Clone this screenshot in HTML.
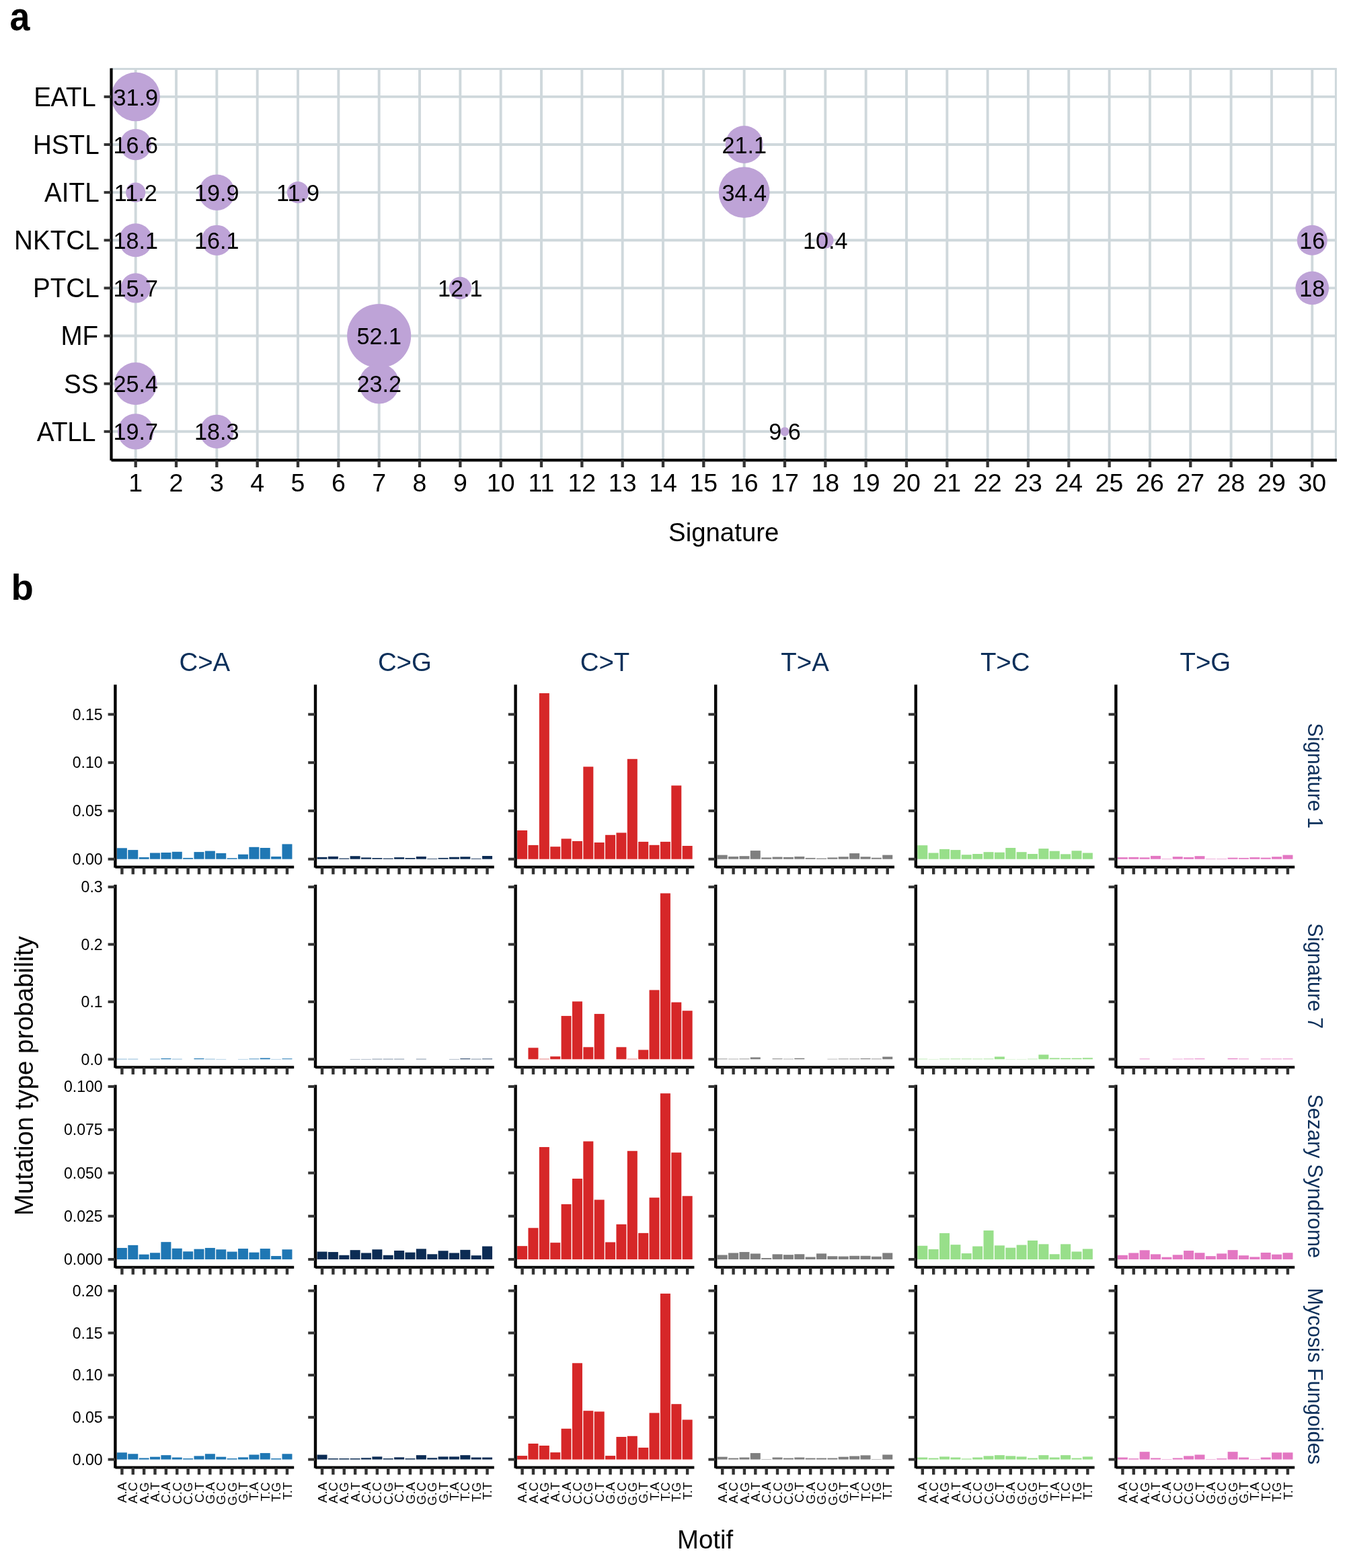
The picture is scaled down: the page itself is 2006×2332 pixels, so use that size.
<!DOCTYPE html>
<html><head><meta charset="utf-8"><title>Mutational signatures figure</title>
<style>html,body{margin:0;padding:0;background:#fff;}body{width:2006px;height:2332px;overflow:hidden;}svg{display:block;}</style>
</head><body>
<svg width="2006" height="2332" viewBox="0 0 2006 2332" font-family="'Liberation Sans', Arial, Helvetica, sans-serif">
<text transform="translate(14.50,44.70) scale(0.9450,1.0350)" font-size="57.00" font-weight="bold">a</text>
<line x1="201.70" y1="102.60" x2="201.70" y2="684.40" stroke="#cfd8dc" stroke-width="3.9" stroke-linecap="butt"/>
<line x1="262.03" y1="102.60" x2="262.03" y2="684.40" stroke="#cfd8dc" stroke-width="3.9" stroke-linecap="butt"/>
<line x1="322.36" y1="102.60" x2="322.36" y2="684.40" stroke="#cfd8dc" stroke-width="3.9" stroke-linecap="butt"/>
<line x1="382.69" y1="102.60" x2="382.69" y2="684.40" stroke="#cfd8dc" stroke-width="3.9" stroke-linecap="butt"/>
<line x1="443.02" y1="102.60" x2="443.02" y2="684.40" stroke="#cfd8dc" stroke-width="3.9" stroke-linecap="butt"/>
<line x1="503.35" y1="102.60" x2="503.35" y2="684.40" stroke="#cfd8dc" stroke-width="3.9" stroke-linecap="butt"/>
<line x1="563.68" y1="102.60" x2="563.68" y2="684.40" stroke="#cfd8dc" stroke-width="3.9" stroke-linecap="butt"/>
<line x1="624.01" y1="102.60" x2="624.01" y2="684.40" stroke="#cfd8dc" stroke-width="3.9" stroke-linecap="butt"/>
<line x1="684.34" y1="102.60" x2="684.34" y2="684.40" stroke="#cfd8dc" stroke-width="3.9" stroke-linecap="butt"/>
<line x1="744.67" y1="102.60" x2="744.67" y2="684.40" stroke="#cfd8dc" stroke-width="3.9" stroke-linecap="butt"/>
<line x1="805.00" y1="102.60" x2="805.00" y2="684.40" stroke="#cfd8dc" stroke-width="3.9" stroke-linecap="butt"/>
<line x1="865.33" y1="102.60" x2="865.33" y2="684.40" stroke="#cfd8dc" stroke-width="3.9" stroke-linecap="butt"/>
<line x1="925.66" y1="102.60" x2="925.66" y2="684.40" stroke="#cfd8dc" stroke-width="3.9" stroke-linecap="butt"/>
<line x1="985.99" y1="102.60" x2="985.99" y2="684.40" stroke="#cfd8dc" stroke-width="3.9" stroke-linecap="butt"/>
<line x1="1046.32" y1="102.60" x2="1046.32" y2="684.40" stroke="#cfd8dc" stroke-width="3.9" stroke-linecap="butt"/>
<line x1="1106.65" y1="102.60" x2="1106.65" y2="684.40" stroke="#cfd8dc" stroke-width="3.9" stroke-linecap="butt"/>
<line x1="1166.98" y1="102.60" x2="1166.98" y2="684.40" stroke="#cfd8dc" stroke-width="3.9" stroke-linecap="butt"/>
<line x1="1227.31" y1="102.60" x2="1227.31" y2="684.40" stroke="#cfd8dc" stroke-width="3.9" stroke-linecap="butt"/>
<line x1="1287.64" y1="102.60" x2="1287.64" y2="684.40" stroke="#cfd8dc" stroke-width="3.9" stroke-linecap="butt"/>
<line x1="1347.97" y1="102.60" x2="1347.97" y2="684.40" stroke="#cfd8dc" stroke-width="3.9" stroke-linecap="butt"/>
<line x1="1408.30" y1="102.60" x2="1408.30" y2="684.40" stroke="#cfd8dc" stroke-width="3.9" stroke-linecap="butt"/>
<line x1="1468.63" y1="102.60" x2="1468.63" y2="684.40" stroke="#cfd8dc" stroke-width="3.9" stroke-linecap="butt"/>
<line x1="1528.96" y1="102.60" x2="1528.96" y2="684.40" stroke="#cfd8dc" stroke-width="3.9" stroke-linecap="butt"/>
<line x1="1589.29" y1="102.60" x2="1589.29" y2="684.40" stroke="#cfd8dc" stroke-width="3.9" stroke-linecap="butt"/>
<line x1="1649.62" y1="102.60" x2="1649.62" y2="684.40" stroke="#cfd8dc" stroke-width="3.9" stroke-linecap="butt"/>
<line x1="1709.95" y1="102.60" x2="1709.95" y2="684.40" stroke="#cfd8dc" stroke-width="3.9" stroke-linecap="butt"/>
<line x1="1770.28" y1="102.60" x2="1770.28" y2="684.40" stroke="#cfd8dc" stroke-width="3.9" stroke-linecap="butt"/>
<line x1="1830.61" y1="102.60" x2="1830.61" y2="684.40" stroke="#cfd8dc" stroke-width="3.9" stroke-linecap="butt"/>
<line x1="1890.94" y1="102.60" x2="1890.94" y2="684.40" stroke="#cfd8dc" stroke-width="3.9" stroke-linecap="butt"/>
<line x1="1951.27" y1="102.60" x2="1951.27" y2="684.40" stroke="#cfd8dc" stroke-width="3.9" stroke-linecap="butt"/>
<line x1="165.50" y1="143.90" x2="1986.40" y2="143.90" stroke="#cfd8dc" stroke-width="3.9" stroke-linecap="butt"/>
<line x1="165.50" y1="215.03" x2="1986.40" y2="215.03" stroke="#cfd8dc" stroke-width="3.9" stroke-linecap="butt"/>
<line x1="165.50" y1="286.16" x2="1986.40" y2="286.16" stroke="#cfd8dc" stroke-width="3.9" stroke-linecap="butt"/>
<line x1="165.50" y1="357.29" x2="1986.40" y2="357.29" stroke="#cfd8dc" stroke-width="3.9" stroke-linecap="butt"/>
<line x1="165.50" y1="428.42" x2="1986.40" y2="428.42" stroke="#cfd8dc" stroke-width="3.9" stroke-linecap="butt"/>
<line x1="165.50" y1="499.55" x2="1986.40" y2="499.55" stroke="#cfd8dc" stroke-width="3.9" stroke-linecap="butt"/>
<line x1="165.50" y1="570.68" x2="1986.40" y2="570.68" stroke="#cfd8dc" stroke-width="3.9" stroke-linecap="butt"/>
<line x1="165.50" y1="641.81" x2="1986.40" y2="641.81" stroke="#cfd8dc" stroke-width="3.9" stroke-linecap="butt"/>
<line x1="165.50" y1="102.60" x2="1987.90" y2="102.60" stroke="#cfd8dc" stroke-width="3.0" stroke-linecap="butt"/>
<line x1="1986.40" y1="102.60" x2="1986.40" y2="684.40" stroke="#cfd8dc" stroke-width="3.0" stroke-linecap="butt"/>
<circle cx="201.70" cy="143.90" r="36.28" fill="#bea3d7"/>
<circle cx="201.70" cy="215.03" r="23.25" fill="#bea3d7"/>
<circle cx="1106.65" cy="215.03" r="27.93" fill="#bea3d7"/>
<circle cx="201.70" cy="286.16" r="14.59" fill="#bea3d7"/>
<circle cx="322.36" cy="286.16" r="26.78" fill="#bea3d7"/>
<circle cx="443.02" cy="286.16" r="16.16" fill="#bea3d7"/>
<circle cx="1106.65" cy="286.16" r="37.89" fill="#bea3d7"/>
<circle cx="201.70" cy="357.29" r="24.94" fill="#bea3d7"/>
<circle cx="322.36" cy="357.29" r="22.65" fill="#bea3d7"/>
<circle cx="1227.31" cy="357.29" r="12.26" fill="#bea3d7"/>
<circle cx="1951.27" cy="357.29" r="22.52" fill="#bea3d7"/>
<circle cx="201.70" cy="428.42" r="22.15" fill="#bea3d7"/>
<circle cx="684.34" cy="428.42" r="16.57" fill="#bea3d7"/>
<circle cx="1951.27" cy="428.42" r="24.83" fill="#bea3d7"/>
<circle cx="563.68" cy="499.55" r="47.55" fill="#bea3d7"/>
<circle cx="201.70" cy="570.68" r="31.59" fill="#bea3d7"/>
<circle cx="563.68" cy="570.68" r="29.79" fill="#bea3d7"/>
<circle cx="201.70" cy="641.81" r="26.59" fill="#bea3d7"/>
<circle cx="322.36" cy="641.81" r="25.15" fill="#bea3d7"/>
<circle cx="1166.98" cy="641.81" r="6.65" fill="#bea3d7"/>
<text transform="translate(201.70,156.50)" font-size="34.20" text-anchor="middle">31.9</text>
<text transform="translate(201.70,227.63)" font-size="34.20" text-anchor="middle">16.6</text>
<text transform="translate(1106.65,227.63)" font-size="34.20" text-anchor="middle">21.1</text>
<text transform="translate(201.70,298.76)" font-size="34.20" text-anchor="middle">11.2</text>
<text transform="translate(322.36,298.76)" font-size="34.20" text-anchor="middle">19.9</text>
<text transform="translate(443.02,298.76)" font-size="34.20" text-anchor="middle">11.9</text>
<text transform="translate(1106.65,298.76)" font-size="34.20" text-anchor="middle">34.4</text>
<text transform="translate(201.70,369.89)" font-size="34.20" text-anchor="middle">18.1</text>
<text transform="translate(322.36,369.89)" font-size="34.20" text-anchor="middle">16.1</text>
<text transform="translate(1227.31,369.89)" font-size="34.20" text-anchor="middle">10.4</text>
<text transform="translate(1951.27,369.89)" font-size="34.20" text-anchor="middle">16</text>
<text transform="translate(201.70,441.02)" font-size="34.20" text-anchor="middle">15.7</text>
<text transform="translate(684.34,441.02)" font-size="34.20" text-anchor="middle">12.1</text>
<text transform="translate(1951.27,441.02)" font-size="34.20" text-anchor="middle">18</text>
<text transform="translate(563.68,512.15)" font-size="34.20" text-anchor="middle">52.1</text>
<text transform="translate(201.70,583.28)" font-size="34.20" text-anchor="middle">25.4</text>
<text transform="translate(563.68,583.28)" font-size="34.20" text-anchor="middle">23.2</text>
<text transform="translate(201.70,654.41)" font-size="34.20" text-anchor="middle">19.7</text>
<text transform="translate(322.36,654.41)" font-size="34.20" text-anchor="middle">18.3</text>
<text transform="translate(1166.98,654.41)" font-size="34.20" text-anchor="middle">9.6</text>
<line x1="165.50" y1="101.40" x2="165.50" y2="684.70" stroke="#000" stroke-width="4.2" stroke-linecap="butt"/>
<line x1="165.50" y1="684.40" x2="1987.90" y2="684.40" stroke="#000" stroke-width="4.2" stroke-linecap="butt"/>
<line x1="154.60" y1="143.90" x2="165.50" y2="143.90" stroke="#333333" stroke-width="4.0" stroke-linecap="butt"/>
<line x1="154.60" y1="215.03" x2="165.50" y2="215.03" stroke="#333333" stroke-width="4.0" stroke-linecap="butt"/>
<line x1="154.60" y1="286.16" x2="165.50" y2="286.16" stroke="#333333" stroke-width="4.0" stroke-linecap="butt"/>
<line x1="154.60" y1="357.29" x2="165.50" y2="357.29" stroke="#333333" stroke-width="4.0" stroke-linecap="butt"/>
<line x1="154.60" y1="428.42" x2="165.50" y2="428.42" stroke="#333333" stroke-width="4.0" stroke-linecap="butt"/>
<line x1="154.60" y1="499.55" x2="165.50" y2="499.55" stroke="#333333" stroke-width="4.0" stroke-linecap="butt"/>
<line x1="154.60" y1="570.68" x2="165.50" y2="570.68" stroke="#333333" stroke-width="4.0" stroke-linecap="butt"/>
<line x1="154.60" y1="641.81" x2="165.50" y2="641.81" stroke="#333333" stroke-width="4.0" stroke-linecap="butt"/>
<line x1="201.70" y1="684.40" x2="201.70" y2="695.00" stroke="#333333" stroke-width="4.3" stroke-linecap="butt"/>
<line x1="262.03" y1="684.40" x2="262.03" y2="695.00" stroke="#333333" stroke-width="4.3" stroke-linecap="butt"/>
<line x1="322.36" y1="684.40" x2="322.36" y2="695.00" stroke="#333333" stroke-width="4.3" stroke-linecap="butt"/>
<line x1="382.69" y1="684.40" x2="382.69" y2="695.00" stroke="#333333" stroke-width="4.3" stroke-linecap="butt"/>
<line x1="443.02" y1="684.40" x2="443.02" y2="695.00" stroke="#333333" stroke-width="4.3" stroke-linecap="butt"/>
<line x1="503.35" y1="684.40" x2="503.35" y2="695.00" stroke="#333333" stroke-width="4.3" stroke-linecap="butt"/>
<line x1="563.68" y1="684.40" x2="563.68" y2="695.00" stroke="#333333" stroke-width="4.3" stroke-linecap="butt"/>
<line x1="624.01" y1="684.40" x2="624.01" y2="695.00" stroke="#333333" stroke-width="4.3" stroke-linecap="butt"/>
<line x1="684.34" y1="684.40" x2="684.34" y2="695.00" stroke="#333333" stroke-width="4.3" stroke-linecap="butt"/>
<line x1="744.67" y1="684.40" x2="744.67" y2="695.00" stroke="#333333" stroke-width="4.3" stroke-linecap="butt"/>
<line x1="805.00" y1="684.40" x2="805.00" y2="695.00" stroke="#333333" stroke-width="4.3" stroke-linecap="butt"/>
<line x1="865.33" y1="684.40" x2="865.33" y2="695.00" stroke="#333333" stroke-width="4.3" stroke-linecap="butt"/>
<line x1="925.66" y1="684.40" x2="925.66" y2="695.00" stroke="#333333" stroke-width="4.3" stroke-linecap="butt"/>
<line x1="985.99" y1="684.40" x2="985.99" y2="695.00" stroke="#333333" stroke-width="4.3" stroke-linecap="butt"/>
<line x1="1046.32" y1="684.40" x2="1046.32" y2="695.00" stroke="#333333" stroke-width="4.3" stroke-linecap="butt"/>
<line x1="1106.65" y1="684.40" x2="1106.65" y2="695.00" stroke="#333333" stroke-width="4.3" stroke-linecap="butt"/>
<line x1="1166.98" y1="684.40" x2="1166.98" y2="695.00" stroke="#333333" stroke-width="4.3" stroke-linecap="butt"/>
<line x1="1227.31" y1="684.40" x2="1227.31" y2="695.00" stroke="#333333" stroke-width="4.3" stroke-linecap="butt"/>
<line x1="1287.64" y1="684.40" x2="1287.64" y2="695.00" stroke="#333333" stroke-width="4.3" stroke-linecap="butt"/>
<line x1="1347.97" y1="684.40" x2="1347.97" y2="695.00" stroke="#333333" stroke-width="4.3" stroke-linecap="butt"/>
<line x1="1408.30" y1="684.40" x2="1408.30" y2="695.00" stroke="#333333" stroke-width="4.3" stroke-linecap="butt"/>
<line x1="1468.63" y1="684.40" x2="1468.63" y2="695.00" stroke="#333333" stroke-width="4.3" stroke-linecap="butt"/>
<line x1="1528.96" y1="684.40" x2="1528.96" y2="695.00" stroke="#333333" stroke-width="4.3" stroke-linecap="butt"/>
<line x1="1589.29" y1="684.40" x2="1589.29" y2="695.00" stroke="#333333" stroke-width="4.3" stroke-linecap="butt"/>
<line x1="1649.62" y1="684.40" x2="1649.62" y2="695.00" stroke="#333333" stroke-width="4.3" stroke-linecap="butt"/>
<line x1="1709.95" y1="684.40" x2="1709.95" y2="695.00" stroke="#333333" stroke-width="4.3" stroke-linecap="butt"/>
<line x1="1770.28" y1="684.40" x2="1770.28" y2="695.00" stroke="#333333" stroke-width="4.3" stroke-linecap="butt"/>
<line x1="1830.61" y1="684.40" x2="1830.61" y2="695.00" stroke="#333333" stroke-width="4.3" stroke-linecap="butt"/>
<line x1="1890.94" y1="684.40" x2="1890.94" y2="695.00" stroke="#333333" stroke-width="4.3" stroke-linecap="butt"/>
<line x1="1951.27" y1="684.40" x2="1951.27" y2="695.00" stroke="#333333" stroke-width="4.3" stroke-linecap="butt"/>
<text transform="translate(142.20,157.80) scale(1.0000,1.0400)" font-size="38.60" text-anchor="end" letter-spacing="-0.43">EATL</text>
<text transform="translate(147.60,228.93) scale(1.0000,1.0400)" font-size="38.60" text-anchor="end">HSTL</text>
<text transform="translate(147.60,300.06) scale(1.0000,1.0400)" font-size="38.60" text-anchor="end">AITL</text>
<text transform="translate(147.60,371.19) scale(1.0000,1.0400)" font-size="38.60" text-anchor="end">NKTCL</text>
<text transform="translate(147.60,442.32) scale(1.0000,1.0400)" font-size="38.60" text-anchor="end">PTCL</text>
<text transform="translate(146.20,513.45) scale(1.0000,1.0400)" font-size="38.60" text-anchor="end">MF</text>
<text transform="translate(146.50,584.58) scale(1.0000,1.0400)" font-size="38.60" text-anchor="end">SS</text>
<text transform="translate(142.00,655.71) scale(1.0000,1.0400)" font-size="38.60" text-anchor="end" letter-spacing="-0.53">ATLL</text>
<text transform="translate(201.70,731.00)" font-size="37.50" text-anchor="middle">1</text>
<text transform="translate(262.03,731.00)" font-size="37.50" text-anchor="middle">2</text>
<text transform="translate(322.36,731.00)" font-size="37.50" text-anchor="middle">3</text>
<text transform="translate(382.69,731.00)" font-size="37.50" text-anchor="middle">4</text>
<text transform="translate(443.02,731.00)" font-size="37.50" text-anchor="middle">5</text>
<text transform="translate(503.35,731.00)" font-size="37.50" text-anchor="middle">6</text>
<text transform="translate(563.68,731.00)" font-size="37.50" text-anchor="middle">7</text>
<text transform="translate(624.01,731.00)" font-size="37.50" text-anchor="middle">8</text>
<text transform="translate(684.34,731.00)" font-size="37.50" text-anchor="middle">9</text>
<text transform="translate(744.67,731.00)" font-size="37.50" text-anchor="middle">10</text>
<text transform="translate(805.00,731.00)" font-size="37.50" text-anchor="middle">11</text>
<text transform="translate(865.33,731.00)" font-size="37.50" text-anchor="middle">12</text>
<text transform="translate(925.66,731.00)" font-size="37.50" text-anchor="middle">13</text>
<text transform="translate(985.99,731.00)" font-size="37.50" text-anchor="middle">14</text>
<text transform="translate(1046.32,731.00)" font-size="37.50" text-anchor="middle">15</text>
<text transform="translate(1106.65,731.00)" font-size="37.50" text-anchor="middle">16</text>
<text transform="translate(1166.98,731.00)" font-size="37.50" text-anchor="middle">17</text>
<text transform="translate(1227.31,731.00)" font-size="37.50" text-anchor="middle">18</text>
<text transform="translate(1287.64,731.00)" font-size="37.50" text-anchor="middle">19</text>
<text transform="translate(1347.97,731.00)" font-size="37.50" text-anchor="middle">20</text>
<text transform="translate(1408.30,731.00)" font-size="37.50" text-anchor="middle">21</text>
<text transform="translate(1468.63,731.00)" font-size="37.50" text-anchor="middle">22</text>
<text transform="translate(1528.96,731.00)" font-size="37.50" text-anchor="middle">23</text>
<text transform="translate(1589.29,731.00)" font-size="37.50" text-anchor="middle">24</text>
<text transform="translate(1649.62,731.00)" font-size="37.50" text-anchor="middle">25</text>
<text transform="translate(1709.95,731.00)" font-size="37.50" text-anchor="middle">26</text>
<text transform="translate(1770.28,731.00)" font-size="37.50" text-anchor="middle">27</text>
<text transform="translate(1830.61,731.00)" font-size="37.50" text-anchor="middle">28</text>
<text transform="translate(1890.94,731.00)" font-size="37.50" text-anchor="middle">29</text>
<text transform="translate(1951.27,731.00)" font-size="37.50" text-anchor="middle">30</text>
<text transform="translate(1076.20,805.00)" font-size="38.40" text-anchor="middle">Signature</text>
<text transform="translate(16.40,892.30)" font-size="54.50" font-weight="bold">b</text>
<rect x="173.90" y="1261.30" width="15.00" height="16.40" fill="#1f77b4"/>
<rect x="190.27" y="1264.10" width="15.00" height="13.60" fill="#1f77b4"/>
<rect x="206.64" y="1275.00" width="15.00" height="2.70" fill="#1f77b4"/>
<rect x="223.01" y="1268.50" width="15.00" height="9.20" fill="#1f77b4"/>
<rect x="239.38" y="1268.00" width="15.00" height="9.70" fill="#1f77b4"/>
<rect x="255.75" y="1266.80" width="15.00" height="10.90" fill="#1f77b4"/>
<rect x="272.12" y="1275.90" width="15.00" height="1.80" fill="#1f77b4"/>
<rect x="288.49" y="1267.10" width="15.00" height="10.60" fill="#1f77b4"/>
<rect x="304.86" y="1265.60" width="15.00" height="12.10" fill="#1f77b4"/>
<rect x="321.23" y="1268.90" width="15.00" height="8.80" fill="#1f77b4"/>
<rect x="337.60" y="1276.20" width="15.00" height="1.50" fill="#1f77b4"/>
<rect x="353.97" y="1270.70" width="15.00" height="7.00" fill="#1f77b4"/>
<rect x="370.34" y="1259.80" width="15.00" height="17.90" fill="#1f77b4"/>
<rect x="386.71" y="1261.00" width="15.00" height="16.70" fill="#1f77b4"/>
<rect x="403.08" y="1273.90" width="15.00" height="3.80" fill="#1f77b4"/>
<rect x="419.45" y="1255.40" width="15.00" height="22.30" fill="#1f77b4"/>
<line x1="171.40" y1="1018.20" x2="171.40" y2="1290.50" stroke="#000" stroke-width="4.4" stroke-linecap="butt"/>
<line x1="171.40" y1="1289.50" x2="437.20" y2="1289.50" stroke="#000" stroke-width="4.0" stroke-linecap="butt"/>
<line x1="160.60" y1="1277.70" x2="171.40" y2="1277.70" stroke="#333333" stroke-width="4.0" stroke-linecap="butt"/>
<text transform="translate(152.70,1285.90) scale(1.0000,1.0100)" font-size="23.10" text-anchor="end">0.00</text>
<line x1="160.60" y1="1205.95" x2="171.40" y2="1205.95" stroke="#333333" stroke-width="4.0" stroke-linecap="butt"/>
<text transform="translate(152.70,1214.15) scale(1.0000,1.0100)" font-size="23.10" text-anchor="end">0.05</text>
<line x1="160.60" y1="1134.20" x2="171.40" y2="1134.20" stroke="#333333" stroke-width="4.0" stroke-linecap="butt"/>
<text transform="translate(152.70,1142.40) scale(1.0000,1.0100)" font-size="23.10" text-anchor="end">0.10</text>
<line x1="160.60" y1="1062.45" x2="171.40" y2="1062.45" stroke="#333333" stroke-width="4.0" stroke-linecap="butt"/>
<text transform="translate(152.70,1070.65) scale(1.0000,1.0100)" font-size="23.10" text-anchor="end">0.15</text>
<line x1="181.40" y1="1289.50" x2="181.40" y2="1300.30" stroke="#333333" stroke-width="4.4" stroke-linecap="butt"/>
<line x1="197.77" y1="1289.50" x2="197.77" y2="1300.30" stroke="#333333" stroke-width="4.4" stroke-linecap="butt"/>
<line x1="214.14" y1="1289.50" x2="214.14" y2="1300.30" stroke="#333333" stroke-width="4.4" stroke-linecap="butt"/>
<line x1="230.51" y1="1289.50" x2="230.51" y2="1300.30" stroke="#333333" stroke-width="4.4" stroke-linecap="butt"/>
<line x1="246.88" y1="1289.50" x2="246.88" y2="1300.30" stroke="#333333" stroke-width="4.4" stroke-linecap="butt"/>
<line x1="263.25" y1="1289.50" x2="263.25" y2="1300.30" stroke="#333333" stroke-width="4.4" stroke-linecap="butt"/>
<line x1="279.62" y1="1289.50" x2="279.62" y2="1300.30" stroke="#333333" stroke-width="4.4" stroke-linecap="butt"/>
<line x1="295.99" y1="1289.50" x2="295.99" y2="1300.30" stroke="#333333" stroke-width="4.4" stroke-linecap="butt"/>
<line x1="312.36" y1="1289.50" x2="312.36" y2="1300.30" stroke="#333333" stroke-width="4.4" stroke-linecap="butt"/>
<line x1="328.73" y1="1289.50" x2="328.73" y2="1300.30" stroke="#333333" stroke-width="4.4" stroke-linecap="butt"/>
<line x1="345.10" y1="1289.50" x2="345.10" y2="1300.30" stroke="#333333" stroke-width="4.4" stroke-linecap="butt"/>
<line x1="361.47" y1="1289.50" x2="361.47" y2="1300.30" stroke="#333333" stroke-width="4.4" stroke-linecap="butt"/>
<line x1="377.84" y1="1289.50" x2="377.84" y2="1300.30" stroke="#333333" stroke-width="4.4" stroke-linecap="butt"/>
<line x1="394.21" y1="1289.50" x2="394.21" y2="1300.30" stroke="#333333" stroke-width="4.4" stroke-linecap="butt"/>
<line x1="410.58" y1="1289.50" x2="410.58" y2="1300.30" stroke="#333333" stroke-width="4.4" stroke-linecap="butt"/>
<line x1="426.95" y1="1289.50" x2="426.95" y2="1300.30" stroke="#333333" stroke-width="4.4" stroke-linecap="butt"/>
<rect x="471.50" y="1274.80" width="15.00" height="2.90" fill="#0c2c54"/>
<rect x="487.87" y="1273.80" width="15.00" height="3.90" fill="#0c2c54"/>
<rect x="504.24" y="1276.50" width="15.00" height="1.20" fill="#0c2c54"/>
<rect x="520.61" y="1273.20" width="15.00" height="4.50" fill="#0c2c54"/>
<rect x="536.98" y="1275.40" width="15.00" height="2.30" fill="#0c2c54"/>
<rect x="553.35" y="1276.00" width="15.00" height="1.70" fill="#0c2c54"/>
<rect x="569.72" y="1276.50" width="15.00" height="1.20" fill="#0c2c54"/>
<rect x="586.09" y="1275.10" width="15.00" height="2.60" fill="#0c2c54"/>
<rect x="602.46" y="1276.00" width="15.00" height="1.70" fill="#0c2c54"/>
<rect x="618.83" y="1273.90" width="15.00" height="3.80" fill="#0c2c54"/>
<rect x="635.20" y="1276.90" width="15.00" height="0.80" fill="#0c2c54"/>
<rect x="651.57" y="1275.90" width="15.00" height="1.80" fill="#0c2c54"/>
<rect x="667.94" y="1274.70" width="15.00" height="3.00" fill="#0c2c54"/>
<rect x="684.31" y="1274.20" width="15.00" height="3.50" fill="#0c2c54"/>
<rect x="700.68" y="1276.80" width="15.00" height="0.90" fill="#0c2c54"/>
<rect x="717.05" y="1273.00" width="15.00" height="4.70" fill="#0c2c54"/>
<line x1="469.00" y1="1018.20" x2="469.00" y2="1290.50" stroke="#000" stroke-width="4.4" stroke-linecap="butt"/>
<line x1="469.00" y1="1289.50" x2="734.80" y2="1289.50" stroke="#000" stroke-width="4.0" stroke-linecap="butt"/>
<line x1="458.20" y1="1277.70" x2="469.00" y2="1277.70" stroke="#333333" stroke-width="4.0" stroke-linecap="butt"/>
<line x1="458.20" y1="1205.95" x2="469.00" y2="1205.95" stroke="#333333" stroke-width="4.0" stroke-linecap="butt"/>
<line x1="458.20" y1="1134.20" x2="469.00" y2="1134.20" stroke="#333333" stroke-width="4.0" stroke-linecap="butt"/>
<line x1="458.20" y1="1062.45" x2="469.00" y2="1062.45" stroke="#333333" stroke-width="4.0" stroke-linecap="butt"/>
<line x1="479.00" y1="1289.50" x2="479.00" y2="1300.30" stroke="#333333" stroke-width="4.4" stroke-linecap="butt"/>
<line x1="495.37" y1="1289.50" x2="495.37" y2="1300.30" stroke="#333333" stroke-width="4.4" stroke-linecap="butt"/>
<line x1="511.74" y1="1289.50" x2="511.74" y2="1300.30" stroke="#333333" stroke-width="4.4" stroke-linecap="butt"/>
<line x1="528.11" y1="1289.50" x2="528.11" y2="1300.30" stroke="#333333" stroke-width="4.4" stroke-linecap="butt"/>
<line x1="544.48" y1="1289.50" x2="544.48" y2="1300.30" stroke="#333333" stroke-width="4.4" stroke-linecap="butt"/>
<line x1="560.85" y1="1289.50" x2="560.85" y2="1300.30" stroke="#333333" stroke-width="4.4" stroke-linecap="butt"/>
<line x1="577.22" y1="1289.50" x2="577.22" y2="1300.30" stroke="#333333" stroke-width="4.4" stroke-linecap="butt"/>
<line x1="593.59" y1="1289.50" x2="593.59" y2="1300.30" stroke="#333333" stroke-width="4.4" stroke-linecap="butt"/>
<line x1="609.96" y1="1289.50" x2="609.96" y2="1300.30" stroke="#333333" stroke-width="4.4" stroke-linecap="butt"/>
<line x1="626.33" y1="1289.50" x2="626.33" y2="1300.30" stroke="#333333" stroke-width="4.4" stroke-linecap="butt"/>
<line x1="642.70" y1="1289.50" x2="642.70" y2="1300.30" stroke="#333333" stroke-width="4.4" stroke-linecap="butt"/>
<line x1="659.07" y1="1289.50" x2="659.07" y2="1300.30" stroke="#333333" stroke-width="4.4" stroke-linecap="butt"/>
<line x1="675.44" y1="1289.50" x2="675.44" y2="1300.30" stroke="#333333" stroke-width="4.4" stroke-linecap="butt"/>
<line x1="691.81" y1="1289.50" x2="691.81" y2="1300.30" stroke="#333333" stroke-width="4.4" stroke-linecap="butt"/>
<line x1="708.18" y1="1289.50" x2="708.18" y2="1300.30" stroke="#333333" stroke-width="4.4" stroke-linecap="butt"/>
<line x1="724.55" y1="1289.50" x2="724.55" y2="1300.30" stroke="#333333" stroke-width="4.4" stroke-linecap="butt"/>
<rect x="769.10" y="1235.00" width="15.00" height="42.70" fill="#d62728"/>
<rect x="785.47" y="1256.90" width="15.00" height="20.80" fill="#d62728"/>
<rect x="801.84" y="1031.00" width="15.00" height="246.70" fill="#d62728"/>
<rect x="818.21" y="1259.20" width="15.00" height="18.50" fill="#d62728"/>
<rect x="834.58" y="1247.40" width="15.00" height="30.30" fill="#d62728"/>
<rect x="850.95" y="1251.00" width="15.00" height="26.70" fill="#d62728"/>
<rect x="867.32" y="1140.30" width="15.00" height="137.40" fill="#d62728"/>
<rect x="883.69" y="1253.00" width="15.00" height="24.70" fill="#d62728"/>
<rect x="900.06" y="1241.80" width="15.00" height="35.90" fill="#d62728"/>
<rect x="916.43" y="1238.50" width="15.00" height="39.20" fill="#d62728"/>
<rect x="932.80" y="1128.80" width="15.00" height="148.90" fill="#d62728"/>
<rect x="949.17" y="1251.90" width="15.00" height="25.80" fill="#d62728"/>
<rect x="965.54" y="1256.80" width="15.00" height="20.90" fill="#d62728"/>
<rect x="981.91" y="1251.90" width="15.00" height="25.80" fill="#d62728"/>
<rect x="998.28" y="1168.30" width="15.00" height="109.40" fill="#d62728"/>
<rect x="1014.65" y="1258.00" width="15.00" height="19.70" fill="#d62728"/>
<line x1="766.60" y1="1018.20" x2="766.60" y2="1290.50" stroke="#000" stroke-width="4.4" stroke-linecap="butt"/>
<line x1="766.60" y1="1289.50" x2="1032.40" y2="1289.50" stroke="#000" stroke-width="4.0" stroke-linecap="butt"/>
<line x1="755.80" y1="1277.70" x2="766.60" y2="1277.70" stroke="#333333" stroke-width="4.0" stroke-linecap="butt"/>
<line x1="755.80" y1="1205.95" x2="766.60" y2="1205.95" stroke="#333333" stroke-width="4.0" stroke-linecap="butt"/>
<line x1="755.80" y1="1134.20" x2="766.60" y2="1134.20" stroke="#333333" stroke-width="4.0" stroke-linecap="butt"/>
<line x1="755.80" y1="1062.45" x2="766.60" y2="1062.45" stroke="#333333" stroke-width="4.0" stroke-linecap="butt"/>
<line x1="776.60" y1="1289.50" x2="776.60" y2="1300.30" stroke="#333333" stroke-width="4.4" stroke-linecap="butt"/>
<line x1="792.97" y1="1289.50" x2="792.97" y2="1300.30" stroke="#333333" stroke-width="4.4" stroke-linecap="butt"/>
<line x1="809.34" y1="1289.50" x2="809.34" y2="1300.30" stroke="#333333" stroke-width="4.4" stroke-linecap="butt"/>
<line x1="825.71" y1="1289.50" x2="825.71" y2="1300.30" stroke="#333333" stroke-width="4.4" stroke-linecap="butt"/>
<line x1="842.08" y1="1289.50" x2="842.08" y2="1300.30" stroke="#333333" stroke-width="4.4" stroke-linecap="butt"/>
<line x1="858.45" y1="1289.50" x2="858.45" y2="1300.30" stroke="#333333" stroke-width="4.4" stroke-linecap="butt"/>
<line x1="874.82" y1="1289.50" x2="874.82" y2="1300.30" stroke="#333333" stroke-width="4.4" stroke-linecap="butt"/>
<line x1="891.19" y1="1289.50" x2="891.19" y2="1300.30" stroke="#333333" stroke-width="4.4" stroke-linecap="butt"/>
<line x1="907.56" y1="1289.50" x2="907.56" y2="1300.30" stroke="#333333" stroke-width="4.4" stroke-linecap="butt"/>
<line x1="923.93" y1="1289.50" x2="923.93" y2="1300.30" stroke="#333333" stroke-width="4.4" stroke-linecap="butt"/>
<line x1="940.30" y1="1289.50" x2="940.30" y2="1300.30" stroke="#333333" stroke-width="4.4" stroke-linecap="butt"/>
<line x1="956.67" y1="1289.50" x2="956.67" y2="1300.30" stroke="#333333" stroke-width="4.4" stroke-linecap="butt"/>
<line x1="973.04" y1="1289.50" x2="973.04" y2="1300.30" stroke="#333333" stroke-width="4.4" stroke-linecap="butt"/>
<line x1="989.41" y1="1289.50" x2="989.41" y2="1300.30" stroke="#333333" stroke-width="4.4" stroke-linecap="butt"/>
<line x1="1005.78" y1="1289.50" x2="1005.78" y2="1300.30" stroke="#333333" stroke-width="4.4" stroke-linecap="butt"/>
<line x1="1022.15" y1="1289.50" x2="1022.15" y2="1300.30" stroke="#333333" stroke-width="4.4" stroke-linecap="butt"/>
<rect x="1066.70" y="1271.60" width="15.00" height="6.10" fill="#7f7f7f"/>
<rect x="1083.07" y="1273.90" width="15.00" height="3.80" fill="#7f7f7f"/>
<rect x="1099.44" y="1273.20" width="15.00" height="4.50" fill="#7f7f7f"/>
<rect x="1115.81" y="1265.10" width="15.00" height="12.60" fill="#7f7f7f"/>
<rect x="1132.18" y="1275.40" width="15.00" height="2.30" fill="#7f7f7f"/>
<rect x="1148.55" y="1274.50" width="15.00" height="3.20" fill="#7f7f7f"/>
<rect x="1164.92" y="1274.80" width="15.00" height="2.90" fill="#7f7f7f"/>
<rect x="1181.29" y="1273.90" width="15.00" height="3.80" fill="#7f7f7f"/>
<rect x="1197.66" y="1275.90" width="15.00" height="1.80" fill="#7f7f7f"/>
<rect x="1214.03" y="1276.50" width="15.00" height="1.20" fill="#7f7f7f"/>
<rect x="1230.40" y="1275.40" width="15.00" height="2.30" fill="#7f7f7f"/>
<rect x="1246.77" y="1274.20" width="15.00" height="3.50" fill="#7f7f7f"/>
<rect x="1263.14" y="1269.10" width="15.00" height="8.60" fill="#7f7f7f"/>
<rect x="1279.51" y="1274.20" width="15.00" height="3.50" fill="#7f7f7f"/>
<rect x="1295.88" y="1275.70" width="15.00" height="2.00" fill="#7f7f7f"/>
<rect x="1312.25" y="1271.60" width="15.00" height="6.10" fill="#7f7f7f"/>
<line x1="1064.20" y1="1018.20" x2="1064.20" y2="1290.50" stroke="#000" stroke-width="4.4" stroke-linecap="butt"/>
<line x1="1064.20" y1="1289.50" x2="1330.00" y2="1289.50" stroke="#000" stroke-width="4.0" stroke-linecap="butt"/>
<line x1="1053.40" y1="1277.70" x2="1064.20" y2="1277.70" stroke="#333333" stroke-width="4.0" stroke-linecap="butt"/>
<line x1="1053.40" y1="1205.95" x2="1064.20" y2="1205.95" stroke="#333333" stroke-width="4.0" stroke-linecap="butt"/>
<line x1="1053.40" y1="1134.20" x2="1064.20" y2="1134.20" stroke="#333333" stroke-width="4.0" stroke-linecap="butt"/>
<line x1="1053.40" y1="1062.45" x2="1064.20" y2="1062.45" stroke="#333333" stroke-width="4.0" stroke-linecap="butt"/>
<line x1="1074.20" y1="1289.50" x2="1074.20" y2="1300.30" stroke="#333333" stroke-width="4.4" stroke-linecap="butt"/>
<line x1="1090.57" y1="1289.50" x2="1090.57" y2="1300.30" stroke="#333333" stroke-width="4.4" stroke-linecap="butt"/>
<line x1="1106.94" y1="1289.50" x2="1106.94" y2="1300.30" stroke="#333333" stroke-width="4.4" stroke-linecap="butt"/>
<line x1="1123.31" y1="1289.50" x2="1123.31" y2="1300.30" stroke="#333333" stroke-width="4.4" stroke-linecap="butt"/>
<line x1="1139.68" y1="1289.50" x2="1139.68" y2="1300.30" stroke="#333333" stroke-width="4.4" stroke-linecap="butt"/>
<line x1="1156.05" y1="1289.50" x2="1156.05" y2="1300.30" stroke="#333333" stroke-width="4.4" stroke-linecap="butt"/>
<line x1="1172.42" y1="1289.50" x2="1172.42" y2="1300.30" stroke="#333333" stroke-width="4.4" stroke-linecap="butt"/>
<line x1="1188.79" y1="1289.50" x2="1188.79" y2="1300.30" stroke="#333333" stroke-width="4.4" stroke-linecap="butt"/>
<line x1="1205.16" y1="1289.50" x2="1205.16" y2="1300.30" stroke="#333333" stroke-width="4.4" stroke-linecap="butt"/>
<line x1="1221.53" y1="1289.50" x2="1221.53" y2="1300.30" stroke="#333333" stroke-width="4.4" stroke-linecap="butt"/>
<line x1="1237.90" y1="1289.50" x2="1237.90" y2="1300.30" stroke="#333333" stroke-width="4.4" stroke-linecap="butt"/>
<line x1="1254.27" y1="1289.50" x2="1254.27" y2="1300.30" stroke="#333333" stroke-width="4.4" stroke-linecap="butt"/>
<line x1="1270.64" y1="1289.50" x2="1270.64" y2="1300.30" stroke="#333333" stroke-width="4.4" stroke-linecap="butt"/>
<line x1="1287.01" y1="1289.50" x2="1287.01" y2="1300.30" stroke="#333333" stroke-width="4.4" stroke-linecap="butt"/>
<line x1="1303.38" y1="1289.50" x2="1303.38" y2="1300.30" stroke="#333333" stroke-width="4.4" stroke-linecap="butt"/>
<line x1="1319.75" y1="1289.50" x2="1319.75" y2="1300.30" stroke="#333333" stroke-width="4.4" stroke-linecap="butt"/>
<rect x="1364.30" y="1257.20" width="15.00" height="20.50" fill="#98df8a"/>
<rect x="1380.67" y="1268.50" width="15.00" height="9.20" fill="#98df8a"/>
<rect x="1397.04" y="1262.90" width="15.00" height="14.80" fill="#98df8a"/>
<rect x="1413.41" y="1264.10" width="15.00" height="13.60" fill="#98df8a"/>
<rect x="1429.78" y="1271.20" width="15.00" height="6.50" fill="#98df8a"/>
<rect x="1446.15" y="1270.00" width="15.00" height="7.70" fill="#98df8a"/>
<rect x="1462.52" y="1267.20" width="15.00" height="10.50" fill="#98df8a"/>
<rect x="1478.89" y="1267.70" width="15.00" height="10.00" fill="#98df8a"/>
<rect x="1495.26" y="1261.00" width="15.00" height="16.70" fill="#98df8a"/>
<rect x="1511.63" y="1267.20" width="15.00" height="10.50" fill="#98df8a"/>
<rect x="1528.00" y="1270.00" width="15.00" height="7.70" fill="#98df8a"/>
<rect x="1544.37" y="1262.10" width="15.00" height="15.60" fill="#98df8a"/>
<rect x="1560.74" y="1265.70" width="15.00" height="12.00" fill="#98df8a"/>
<rect x="1577.11" y="1270.30" width="15.00" height="7.40" fill="#98df8a"/>
<rect x="1593.48" y="1265.30" width="15.00" height="12.40" fill="#98df8a"/>
<rect x="1609.85" y="1268.50" width="15.00" height="9.20" fill="#98df8a"/>
<line x1="1361.80" y1="1018.20" x2="1361.80" y2="1290.50" stroke="#000" stroke-width="4.4" stroke-linecap="butt"/>
<line x1="1361.80" y1="1289.50" x2="1627.60" y2="1289.50" stroke="#000" stroke-width="4.0" stroke-linecap="butt"/>
<line x1="1351.00" y1="1277.70" x2="1361.80" y2="1277.70" stroke="#333333" stroke-width="4.0" stroke-linecap="butt"/>
<line x1="1351.00" y1="1205.95" x2="1361.80" y2="1205.95" stroke="#333333" stroke-width="4.0" stroke-linecap="butt"/>
<line x1="1351.00" y1="1134.20" x2="1361.80" y2="1134.20" stroke="#333333" stroke-width="4.0" stroke-linecap="butt"/>
<line x1="1351.00" y1="1062.45" x2="1361.80" y2="1062.45" stroke="#333333" stroke-width="4.0" stroke-linecap="butt"/>
<line x1="1371.80" y1="1289.50" x2="1371.80" y2="1300.30" stroke="#333333" stroke-width="4.4" stroke-linecap="butt"/>
<line x1="1388.17" y1="1289.50" x2="1388.17" y2="1300.30" stroke="#333333" stroke-width="4.4" stroke-linecap="butt"/>
<line x1="1404.54" y1="1289.50" x2="1404.54" y2="1300.30" stroke="#333333" stroke-width="4.4" stroke-linecap="butt"/>
<line x1="1420.91" y1="1289.50" x2="1420.91" y2="1300.30" stroke="#333333" stroke-width="4.4" stroke-linecap="butt"/>
<line x1="1437.28" y1="1289.50" x2="1437.28" y2="1300.30" stroke="#333333" stroke-width="4.4" stroke-linecap="butt"/>
<line x1="1453.65" y1="1289.50" x2="1453.65" y2="1300.30" stroke="#333333" stroke-width="4.4" stroke-linecap="butt"/>
<line x1="1470.02" y1="1289.50" x2="1470.02" y2="1300.30" stroke="#333333" stroke-width="4.4" stroke-linecap="butt"/>
<line x1="1486.39" y1="1289.50" x2="1486.39" y2="1300.30" stroke="#333333" stroke-width="4.4" stroke-linecap="butt"/>
<line x1="1502.76" y1="1289.50" x2="1502.76" y2="1300.30" stroke="#333333" stroke-width="4.4" stroke-linecap="butt"/>
<line x1="1519.13" y1="1289.50" x2="1519.13" y2="1300.30" stroke="#333333" stroke-width="4.4" stroke-linecap="butt"/>
<line x1="1535.50" y1="1289.50" x2="1535.50" y2="1300.30" stroke="#333333" stroke-width="4.4" stroke-linecap="butt"/>
<line x1="1551.87" y1="1289.50" x2="1551.87" y2="1300.30" stroke="#333333" stroke-width="4.4" stroke-linecap="butt"/>
<line x1="1568.24" y1="1289.50" x2="1568.24" y2="1300.30" stroke="#333333" stroke-width="4.4" stroke-linecap="butt"/>
<line x1="1584.61" y1="1289.50" x2="1584.61" y2="1300.30" stroke="#333333" stroke-width="4.4" stroke-linecap="butt"/>
<line x1="1600.98" y1="1289.50" x2="1600.98" y2="1300.30" stroke="#333333" stroke-width="4.4" stroke-linecap="butt"/>
<line x1="1617.35" y1="1289.50" x2="1617.35" y2="1300.30" stroke="#333333" stroke-width="4.4" stroke-linecap="butt"/>
<rect x="1661.90" y="1275.10" width="15.00" height="2.60" fill="#e377c2"/>
<rect x="1678.27" y="1274.80" width="15.00" height="2.90" fill="#e377c2"/>
<rect x="1694.64" y="1275.30" width="15.00" height="2.40" fill="#e377c2"/>
<rect x="1711.01" y="1272.90" width="15.00" height="4.80" fill="#e377c2"/>
<rect x="1727.38" y="1277.10" width="15.00" height="0.60" fill="#e377c2"/>
<rect x="1743.75" y="1274.10" width="15.00" height="3.60" fill="#e377c2"/>
<rect x="1760.12" y="1275.00" width="15.00" height="2.70" fill="#e377c2"/>
<rect x="1776.49" y="1273.20" width="15.00" height="4.50" fill="#e377c2"/>
<rect x="1792.86" y="1277.10" width="15.00" height="0.60" fill="#e377c2"/>
<rect x="1809.23" y="1277.10" width="15.00" height="0.60" fill="#e377c2"/>
<rect x="1825.60" y="1275.60" width="15.00" height="2.10" fill="#e377c2"/>
<rect x="1841.97" y="1275.90" width="15.00" height="1.80" fill="#e377c2"/>
<rect x="1858.34" y="1275.10" width="15.00" height="2.60" fill="#e377c2"/>
<rect x="1874.71" y="1275.60" width="15.00" height="2.10" fill="#e377c2"/>
<rect x="1891.08" y="1274.20" width="15.00" height="3.50" fill="#e377c2"/>
<rect x="1907.45" y="1271.60" width="15.00" height="6.10" fill="#e377c2"/>
<line x1="1659.40" y1="1018.20" x2="1659.40" y2="1290.50" stroke="#000" stroke-width="4.4" stroke-linecap="butt"/>
<line x1="1659.40" y1="1289.50" x2="1925.20" y2="1289.50" stroke="#000" stroke-width="4.0" stroke-linecap="butt"/>
<line x1="1648.60" y1="1277.70" x2="1659.40" y2="1277.70" stroke="#333333" stroke-width="4.0" stroke-linecap="butt"/>
<line x1="1648.60" y1="1205.95" x2="1659.40" y2="1205.95" stroke="#333333" stroke-width="4.0" stroke-linecap="butt"/>
<line x1="1648.60" y1="1134.20" x2="1659.40" y2="1134.20" stroke="#333333" stroke-width="4.0" stroke-linecap="butt"/>
<line x1="1648.60" y1="1062.45" x2="1659.40" y2="1062.45" stroke="#333333" stroke-width="4.0" stroke-linecap="butt"/>
<line x1="1669.40" y1="1289.50" x2="1669.40" y2="1300.30" stroke="#333333" stroke-width="4.4" stroke-linecap="butt"/>
<line x1="1685.77" y1="1289.50" x2="1685.77" y2="1300.30" stroke="#333333" stroke-width="4.4" stroke-linecap="butt"/>
<line x1="1702.14" y1="1289.50" x2="1702.14" y2="1300.30" stroke="#333333" stroke-width="4.4" stroke-linecap="butt"/>
<line x1="1718.51" y1="1289.50" x2="1718.51" y2="1300.30" stroke="#333333" stroke-width="4.4" stroke-linecap="butt"/>
<line x1="1734.88" y1="1289.50" x2="1734.88" y2="1300.30" stroke="#333333" stroke-width="4.4" stroke-linecap="butt"/>
<line x1="1751.25" y1="1289.50" x2="1751.25" y2="1300.30" stroke="#333333" stroke-width="4.4" stroke-linecap="butt"/>
<line x1="1767.62" y1="1289.50" x2="1767.62" y2="1300.30" stroke="#333333" stroke-width="4.4" stroke-linecap="butt"/>
<line x1="1783.99" y1="1289.50" x2="1783.99" y2="1300.30" stroke="#333333" stroke-width="4.4" stroke-linecap="butt"/>
<line x1="1800.36" y1="1289.50" x2="1800.36" y2="1300.30" stroke="#333333" stroke-width="4.4" stroke-linecap="butt"/>
<line x1="1816.73" y1="1289.50" x2="1816.73" y2="1300.30" stroke="#333333" stroke-width="4.4" stroke-linecap="butt"/>
<line x1="1833.10" y1="1289.50" x2="1833.10" y2="1300.30" stroke="#333333" stroke-width="4.4" stroke-linecap="butt"/>
<line x1="1849.47" y1="1289.50" x2="1849.47" y2="1300.30" stroke="#333333" stroke-width="4.4" stroke-linecap="butt"/>
<line x1="1865.84" y1="1289.50" x2="1865.84" y2="1300.30" stroke="#333333" stroke-width="4.4" stroke-linecap="butt"/>
<line x1="1882.21" y1="1289.50" x2="1882.21" y2="1300.30" stroke="#333333" stroke-width="4.4" stroke-linecap="butt"/>
<line x1="1898.58" y1="1289.50" x2="1898.58" y2="1300.30" stroke="#333333" stroke-width="4.4" stroke-linecap="butt"/>
<line x1="1914.95" y1="1289.50" x2="1914.95" y2="1300.30" stroke="#333333" stroke-width="4.4" stroke-linecap="butt"/>
<text transform="translate(1945.00,1153.85) rotate(90)" font-size="30.70" fill="#0c2f5a" text-anchor="middle">Signature 1</text>
<rect x="173.90" y="1574.83" width="15.00" height="0.50" fill="#1f77b4"/>
<rect x="190.27" y="1574.83" width="15.00" height="0.50" fill="#1f77b4"/>
<rect x="223.01" y="1574.83" width="15.00" height="0.50" fill="#1f77b4"/>
<rect x="239.38" y="1574.13" width="15.00" height="1.20" fill="#1f77b4"/>
<rect x="255.75" y="1574.83" width="15.00" height="0.50" fill="#1f77b4"/>
<rect x="288.49" y="1574.13" width="15.00" height="1.20" fill="#1f77b4"/>
<rect x="304.86" y="1574.83" width="15.00" height="0.50" fill="#1f77b4"/>
<rect x="321.23" y="1575.03" width="15.00" height="0.30" fill="#1f77b4"/>
<rect x="353.97" y="1575.03" width="15.00" height="0.30" fill="#1f77b4"/>
<rect x="370.34" y="1574.53" width="15.00" height="0.80" fill="#1f77b4"/>
<rect x="386.71" y="1573.63" width="15.00" height="1.70" fill="#1f77b4"/>
<rect x="403.08" y="1575.03" width="15.00" height="0.30" fill="#1f77b4"/>
<rect x="419.45" y="1574.33" width="15.00" height="1.00" fill="#1f77b4"/>
<line x1="171.40" y1="1315.83" x2="171.40" y2="1588.13" stroke="#000" stroke-width="4.4" stroke-linecap="butt"/>
<line x1="171.40" y1="1587.13" x2="437.20" y2="1587.13" stroke="#000" stroke-width="4.0" stroke-linecap="butt"/>
<line x1="160.60" y1="1575.33" x2="171.40" y2="1575.33" stroke="#333333" stroke-width="4.0" stroke-linecap="butt"/>
<text transform="translate(152.70,1583.53) scale(1.0000,1.0100)" font-size="23.10" text-anchor="end">0.0</text>
<line x1="160.60" y1="1489.93" x2="171.40" y2="1489.93" stroke="#333333" stroke-width="4.0" stroke-linecap="butt"/>
<text transform="translate(152.70,1498.13) scale(1.0000,1.0100)" font-size="23.10" text-anchor="end">0.1</text>
<line x1="160.60" y1="1404.53" x2="171.40" y2="1404.53" stroke="#333333" stroke-width="4.0" stroke-linecap="butt"/>
<text transform="translate(152.70,1412.73) scale(1.0000,1.0100)" font-size="23.10" text-anchor="end">0.2</text>
<line x1="160.60" y1="1319.13" x2="171.40" y2="1319.13" stroke="#333333" stroke-width="4.0" stroke-linecap="butt"/>
<text transform="translate(152.70,1327.33) scale(1.0000,1.0100)" font-size="23.10" text-anchor="end">0.3</text>
<line x1="181.40" y1="1587.13" x2="181.40" y2="1597.93" stroke="#333333" stroke-width="4.4" stroke-linecap="butt"/>
<line x1="197.77" y1="1587.13" x2="197.77" y2="1597.93" stroke="#333333" stroke-width="4.4" stroke-linecap="butt"/>
<line x1="214.14" y1="1587.13" x2="214.14" y2="1597.93" stroke="#333333" stroke-width="4.4" stroke-linecap="butt"/>
<line x1="230.51" y1="1587.13" x2="230.51" y2="1597.93" stroke="#333333" stroke-width="4.4" stroke-linecap="butt"/>
<line x1="246.88" y1="1587.13" x2="246.88" y2="1597.93" stroke="#333333" stroke-width="4.4" stroke-linecap="butt"/>
<line x1="263.25" y1="1587.13" x2="263.25" y2="1597.93" stroke="#333333" stroke-width="4.4" stroke-linecap="butt"/>
<line x1="279.62" y1="1587.13" x2="279.62" y2="1597.93" stroke="#333333" stroke-width="4.4" stroke-linecap="butt"/>
<line x1="295.99" y1="1587.13" x2="295.99" y2="1597.93" stroke="#333333" stroke-width="4.4" stroke-linecap="butt"/>
<line x1="312.36" y1="1587.13" x2="312.36" y2="1597.93" stroke="#333333" stroke-width="4.4" stroke-linecap="butt"/>
<line x1="328.73" y1="1587.13" x2="328.73" y2="1597.93" stroke="#333333" stroke-width="4.4" stroke-linecap="butt"/>
<line x1="345.10" y1="1587.13" x2="345.10" y2="1597.93" stroke="#333333" stroke-width="4.4" stroke-linecap="butt"/>
<line x1="361.47" y1="1587.13" x2="361.47" y2="1597.93" stroke="#333333" stroke-width="4.4" stroke-linecap="butt"/>
<line x1="377.84" y1="1587.13" x2="377.84" y2="1597.93" stroke="#333333" stroke-width="4.4" stroke-linecap="butt"/>
<line x1="394.21" y1="1587.13" x2="394.21" y2="1597.93" stroke="#333333" stroke-width="4.4" stroke-linecap="butt"/>
<line x1="410.58" y1="1587.13" x2="410.58" y2="1597.93" stroke="#333333" stroke-width="4.4" stroke-linecap="butt"/>
<line x1="426.95" y1="1587.13" x2="426.95" y2="1597.93" stroke="#333333" stroke-width="4.4" stroke-linecap="butt"/>
<rect x="520.61" y="1575.03" width="15.00" height="0.30" fill="#0c2c54"/>
<rect x="536.98" y="1575.03" width="15.00" height="0.30" fill="#0c2c54"/>
<rect x="553.35" y="1574.83" width="15.00" height="0.50" fill="#0c2c54"/>
<rect x="569.72" y="1574.83" width="15.00" height="0.50" fill="#0c2c54"/>
<rect x="586.09" y="1574.83" width="15.00" height="0.50" fill="#0c2c54"/>
<rect x="618.83" y="1574.83" width="15.00" height="0.50" fill="#0c2c54"/>
<rect x="667.94" y="1575.03" width="15.00" height="0.30" fill="#0c2c54"/>
<rect x="684.31" y="1574.33" width="15.00" height="1.00" fill="#0c2c54"/>
<rect x="700.68" y="1574.83" width="15.00" height="0.50" fill="#0c2c54"/>
<rect x="717.05" y="1574.53" width="15.00" height="0.80" fill="#0c2c54"/>
<line x1="469.00" y1="1315.83" x2="469.00" y2="1588.13" stroke="#000" stroke-width="4.4" stroke-linecap="butt"/>
<line x1="469.00" y1="1587.13" x2="734.80" y2="1587.13" stroke="#000" stroke-width="4.0" stroke-linecap="butt"/>
<line x1="458.20" y1="1575.33" x2="469.00" y2="1575.33" stroke="#333333" stroke-width="4.0" stroke-linecap="butt"/>
<line x1="458.20" y1="1489.93" x2="469.00" y2="1489.93" stroke="#333333" stroke-width="4.0" stroke-linecap="butt"/>
<line x1="458.20" y1="1404.53" x2="469.00" y2="1404.53" stroke="#333333" stroke-width="4.0" stroke-linecap="butt"/>
<line x1="458.20" y1="1319.13" x2="469.00" y2="1319.13" stroke="#333333" stroke-width="4.0" stroke-linecap="butt"/>
<line x1="479.00" y1="1587.13" x2="479.00" y2="1597.93" stroke="#333333" stroke-width="4.4" stroke-linecap="butt"/>
<line x1="495.37" y1="1587.13" x2="495.37" y2="1597.93" stroke="#333333" stroke-width="4.4" stroke-linecap="butt"/>
<line x1="511.74" y1="1587.13" x2="511.74" y2="1597.93" stroke="#333333" stroke-width="4.4" stroke-linecap="butt"/>
<line x1="528.11" y1="1587.13" x2="528.11" y2="1597.93" stroke="#333333" stroke-width="4.4" stroke-linecap="butt"/>
<line x1="544.48" y1="1587.13" x2="544.48" y2="1597.93" stroke="#333333" stroke-width="4.4" stroke-linecap="butt"/>
<line x1="560.85" y1="1587.13" x2="560.85" y2="1597.93" stroke="#333333" stroke-width="4.4" stroke-linecap="butt"/>
<line x1="577.22" y1="1587.13" x2="577.22" y2="1597.93" stroke="#333333" stroke-width="4.4" stroke-linecap="butt"/>
<line x1="593.59" y1="1587.13" x2="593.59" y2="1597.93" stroke="#333333" stroke-width="4.4" stroke-linecap="butt"/>
<line x1="609.96" y1="1587.13" x2="609.96" y2="1597.93" stroke="#333333" stroke-width="4.4" stroke-linecap="butt"/>
<line x1="626.33" y1="1587.13" x2="626.33" y2="1597.93" stroke="#333333" stroke-width="4.4" stroke-linecap="butt"/>
<line x1="642.70" y1="1587.13" x2="642.70" y2="1597.93" stroke="#333333" stroke-width="4.4" stroke-linecap="butt"/>
<line x1="659.07" y1="1587.13" x2="659.07" y2="1597.93" stroke="#333333" stroke-width="4.4" stroke-linecap="butt"/>
<line x1="675.44" y1="1587.13" x2="675.44" y2="1597.93" stroke="#333333" stroke-width="4.4" stroke-linecap="butt"/>
<line x1="691.81" y1="1587.13" x2="691.81" y2="1597.93" stroke="#333333" stroke-width="4.4" stroke-linecap="butt"/>
<line x1="708.18" y1="1587.13" x2="708.18" y2="1597.93" stroke="#333333" stroke-width="4.4" stroke-linecap="butt"/>
<line x1="724.55" y1="1587.13" x2="724.55" y2="1597.93" stroke="#333333" stroke-width="4.4" stroke-linecap="butt"/>
<rect x="785.47" y="1558.33" width="15.00" height="17.00" fill="#d62728"/>
<rect x="801.84" y="1574.73" width="15.00" height="0.60" fill="#d62728"/>
<rect x="818.21" y="1571.23" width="15.00" height="4.10" fill="#d62728"/>
<rect x="834.58" y="1510.93" width="15.00" height="64.40" fill="#d62728"/>
<rect x="850.95" y="1489.43" width="15.00" height="85.90" fill="#d62728"/>
<rect x="867.32" y="1557.33" width="15.00" height="18.00" fill="#d62728"/>
<rect x="883.69" y="1507.93" width="15.00" height="67.40" fill="#d62728"/>
<rect x="916.43" y="1557.33" width="15.00" height="18.00" fill="#d62728"/>
<rect x="932.80" y="1574.73" width="15.00" height="0.60" fill="#d62728"/>
<rect x="949.17" y="1561.43" width="15.00" height="13.90" fill="#d62728"/>
<rect x="965.54" y="1472.43" width="15.00" height="102.90" fill="#d62728"/>
<rect x="981.91" y="1328.53" width="15.00" height="246.80" fill="#d62728"/>
<rect x="998.28" y="1490.63" width="15.00" height="84.70" fill="#d62728"/>
<rect x="1014.65" y="1503.23" width="15.00" height="72.10" fill="#d62728"/>
<line x1="766.60" y1="1315.83" x2="766.60" y2="1588.13" stroke="#000" stroke-width="4.4" stroke-linecap="butt"/>
<line x1="766.60" y1="1587.13" x2="1032.40" y2="1587.13" stroke="#000" stroke-width="4.0" stroke-linecap="butt"/>
<line x1="755.80" y1="1575.33" x2="766.60" y2="1575.33" stroke="#333333" stroke-width="4.0" stroke-linecap="butt"/>
<line x1="755.80" y1="1489.93" x2="766.60" y2="1489.93" stroke="#333333" stroke-width="4.0" stroke-linecap="butt"/>
<line x1="755.80" y1="1404.53" x2="766.60" y2="1404.53" stroke="#333333" stroke-width="4.0" stroke-linecap="butt"/>
<line x1="755.80" y1="1319.13" x2="766.60" y2="1319.13" stroke="#333333" stroke-width="4.0" stroke-linecap="butt"/>
<line x1="776.60" y1="1587.13" x2="776.60" y2="1597.93" stroke="#333333" stroke-width="4.4" stroke-linecap="butt"/>
<line x1="792.97" y1="1587.13" x2="792.97" y2="1597.93" stroke="#333333" stroke-width="4.4" stroke-linecap="butt"/>
<line x1="809.34" y1="1587.13" x2="809.34" y2="1597.93" stroke="#333333" stroke-width="4.4" stroke-linecap="butt"/>
<line x1="825.71" y1="1587.13" x2="825.71" y2="1597.93" stroke="#333333" stroke-width="4.4" stroke-linecap="butt"/>
<line x1="842.08" y1="1587.13" x2="842.08" y2="1597.93" stroke="#333333" stroke-width="4.4" stroke-linecap="butt"/>
<line x1="858.45" y1="1587.13" x2="858.45" y2="1597.93" stroke="#333333" stroke-width="4.4" stroke-linecap="butt"/>
<line x1="874.82" y1="1587.13" x2="874.82" y2="1597.93" stroke="#333333" stroke-width="4.4" stroke-linecap="butt"/>
<line x1="891.19" y1="1587.13" x2="891.19" y2="1597.93" stroke="#333333" stroke-width="4.4" stroke-linecap="butt"/>
<line x1="907.56" y1="1587.13" x2="907.56" y2="1597.93" stroke="#333333" stroke-width="4.4" stroke-linecap="butt"/>
<line x1="923.93" y1="1587.13" x2="923.93" y2="1597.93" stroke="#333333" stroke-width="4.4" stroke-linecap="butt"/>
<line x1="940.30" y1="1587.13" x2="940.30" y2="1597.93" stroke="#333333" stroke-width="4.4" stroke-linecap="butt"/>
<line x1="956.67" y1="1587.13" x2="956.67" y2="1597.93" stroke="#333333" stroke-width="4.4" stroke-linecap="butt"/>
<line x1="973.04" y1="1587.13" x2="973.04" y2="1597.93" stroke="#333333" stroke-width="4.4" stroke-linecap="butt"/>
<line x1="989.41" y1="1587.13" x2="989.41" y2="1597.93" stroke="#333333" stroke-width="4.4" stroke-linecap="butt"/>
<line x1="1005.78" y1="1587.13" x2="1005.78" y2="1597.93" stroke="#333333" stroke-width="4.4" stroke-linecap="butt"/>
<line x1="1022.15" y1="1587.13" x2="1022.15" y2="1597.93" stroke="#333333" stroke-width="4.4" stroke-linecap="butt"/>
<rect x="1066.70" y="1574.53" width="15.00" height="0.80" fill="#7f7f7f"/>
<rect x="1083.07" y="1574.73" width="15.00" height="0.60" fill="#7f7f7f"/>
<rect x="1099.44" y="1574.53" width="15.00" height="0.80" fill="#7f7f7f"/>
<rect x="1115.81" y="1572.53" width="15.00" height="2.80" fill="#7f7f7f"/>
<rect x="1148.55" y="1574.33" width="15.00" height="1.00" fill="#7f7f7f"/>
<rect x="1164.92" y="1574.73" width="15.00" height="0.60" fill="#7f7f7f"/>
<rect x="1181.29" y="1573.83" width="15.00" height="1.50" fill="#7f7f7f"/>
<rect x="1230.40" y="1574.83" width="15.00" height="0.50" fill="#7f7f7f"/>
<rect x="1246.77" y="1574.53" width="15.00" height="0.80" fill="#7f7f7f"/>
<rect x="1263.14" y="1574.53" width="15.00" height="0.80" fill="#7f7f7f"/>
<rect x="1279.51" y="1574.13" width="15.00" height="1.20" fill="#7f7f7f"/>
<rect x="1295.88" y="1574.53" width="15.00" height="0.80" fill="#7f7f7f"/>
<rect x="1312.25" y="1571.63" width="15.00" height="3.70" fill="#7f7f7f"/>
<line x1="1064.20" y1="1315.83" x2="1064.20" y2="1588.13" stroke="#000" stroke-width="4.4" stroke-linecap="butt"/>
<line x1="1064.20" y1="1587.13" x2="1330.00" y2="1587.13" stroke="#000" stroke-width="4.0" stroke-linecap="butt"/>
<line x1="1053.40" y1="1575.33" x2="1064.20" y2="1575.33" stroke="#333333" stroke-width="4.0" stroke-linecap="butt"/>
<line x1="1053.40" y1="1489.93" x2="1064.20" y2="1489.93" stroke="#333333" stroke-width="4.0" stroke-linecap="butt"/>
<line x1="1053.40" y1="1404.53" x2="1064.20" y2="1404.53" stroke="#333333" stroke-width="4.0" stroke-linecap="butt"/>
<line x1="1053.40" y1="1319.13" x2="1064.20" y2="1319.13" stroke="#333333" stroke-width="4.0" stroke-linecap="butt"/>
<line x1="1074.20" y1="1587.13" x2="1074.20" y2="1597.93" stroke="#333333" stroke-width="4.4" stroke-linecap="butt"/>
<line x1="1090.57" y1="1587.13" x2="1090.57" y2="1597.93" stroke="#333333" stroke-width="4.4" stroke-linecap="butt"/>
<line x1="1106.94" y1="1587.13" x2="1106.94" y2="1597.93" stroke="#333333" stroke-width="4.4" stroke-linecap="butt"/>
<line x1="1123.31" y1="1587.13" x2="1123.31" y2="1597.93" stroke="#333333" stroke-width="4.4" stroke-linecap="butt"/>
<line x1="1139.68" y1="1587.13" x2="1139.68" y2="1597.93" stroke="#333333" stroke-width="4.4" stroke-linecap="butt"/>
<line x1="1156.05" y1="1587.13" x2="1156.05" y2="1597.93" stroke="#333333" stroke-width="4.4" stroke-linecap="butt"/>
<line x1="1172.42" y1="1587.13" x2="1172.42" y2="1597.93" stroke="#333333" stroke-width="4.4" stroke-linecap="butt"/>
<line x1="1188.79" y1="1587.13" x2="1188.79" y2="1597.93" stroke="#333333" stroke-width="4.4" stroke-linecap="butt"/>
<line x1="1205.16" y1="1587.13" x2="1205.16" y2="1597.93" stroke="#333333" stroke-width="4.4" stroke-linecap="butt"/>
<line x1="1221.53" y1="1587.13" x2="1221.53" y2="1597.93" stroke="#333333" stroke-width="4.4" stroke-linecap="butt"/>
<line x1="1237.90" y1="1587.13" x2="1237.90" y2="1597.93" stroke="#333333" stroke-width="4.4" stroke-linecap="butt"/>
<line x1="1254.27" y1="1587.13" x2="1254.27" y2="1597.93" stroke="#333333" stroke-width="4.4" stroke-linecap="butt"/>
<line x1="1270.64" y1="1587.13" x2="1270.64" y2="1597.93" stroke="#333333" stroke-width="4.4" stroke-linecap="butt"/>
<line x1="1287.01" y1="1587.13" x2="1287.01" y2="1597.93" stroke="#333333" stroke-width="4.4" stroke-linecap="butt"/>
<line x1="1303.38" y1="1587.13" x2="1303.38" y2="1597.93" stroke="#333333" stroke-width="4.4" stroke-linecap="butt"/>
<line x1="1319.75" y1="1587.13" x2="1319.75" y2="1597.93" stroke="#333333" stroke-width="4.4" stroke-linecap="butt"/>
<rect x="1364.30" y="1574.73" width="15.00" height="0.60" fill="#98df8a"/>
<rect x="1380.67" y="1575.03" width="15.00" height="0.30" fill="#98df8a"/>
<rect x="1397.04" y="1574.63" width="15.00" height="0.70" fill="#98df8a"/>
<rect x="1413.41" y="1574.53" width="15.00" height="0.80" fill="#98df8a"/>
<rect x="1429.78" y="1574.53" width="15.00" height="0.80" fill="#98df8a"/>
<rect x="1446.15" y="1574.63" width="15.00" height="0.70" fill="#98df8a"/>
<rect x="1462.52" y="1574.53" width="15.00" height="0.80" fill="#98df8a"/>
<rect x="1478.89" y="1571.53" width="15.00" height="3.80" fill="#98df8a"/>
<rect x="1495.26" y="1575.03" width="15.00" height="0.30" fill="#98df8a"/>
<rect x="1511.63" y="1575.03" width="15.00" height="0.30" fill="#98df8a"/>
<rect x="1528.00" y="1574.73" width="15.00" height="0.60" fill="#98df8a"/>
<rect x="1544.37" y="1568.53" width="15.00" height="6.80" fill="#98df8a"/>
<rect x="1560.74" y="1573.53" width="15.00" height="1.80" fill="#98df8a"/>
<rect x="1577.11" y="1573.73" width="15.00" height="1.60" fill="#98df8a"/>
<rect x="1593.48" y="1573.73" width="15.00" height="1.60" fill="#98df8a"/>
<rect x="1609.85" y="1573.33" width="15.00" height="2.00" fill="#98df8a"/>
<line x1="1361.80" y1="1315.83" x2="1361.80" y2="1588.13" stroke="#000" stroke-width="4.4" stroke-linecap="butt"/>
<line x1="1361.80" y1="1587.13" x2="1627.60" y2="1587.13" stroke="#000" stroke-width="4.0" stroke-linecap="butt"/>
<line x1="1351.00" y1="1575.33" x2="1361.80" y2="1575.33" stroke="#333333" stroke-width="4.0" stroke-linecap="butt"/>
<line x1="1351.00" y1="1489.93" x2="1361.80" y2="1489.93" stroke="#333333" stroke-width="4.0" stroke-linecap="butt"/>
<line x1="1351.00" y1="1404.53" x2="1361.80" y2="1404.53" stroke="#333333" stroke-width="4.0" stroke-linecap="butt"/>
<line x1="1351.00" y1="1319.13" x2="1361.80" y2="1319.13" stroke="#333333" stroke-width="4.0" stroke-linecap="butt"/>
<line x1="1371.80" y1="1587.13" x2="1371.80" y2="1597.93" stroke="#333333" stroke-width="4.4" stroke-linecap="butt"/>
<line x1="1388.17" y1="1587.13" x2="1388.17" y2="1597.93" stroke="#333333" stroke-width="4.4" stroke-linecap="butt"/>
<line x1="1404.54" y1="1587.13" x2="1404.54" y2="1597.93" stroke="#333333" stroke-width="4.4" stroke-linecap="butt"/>
<line x1="1420.91" y1="1587.13" x2="1420.91" y2="1597.93" stroke="#333333" stroke-width="4.4" stroke-linecap="butt"/>
<line x1="1437.28" y1="1587.13" x2="1437.28" y2="1597.93" stroke="#333333" stroke-width="4.4" stroke-linecap="butt"/>
<line x1="1453.65" y1="1587.13" x2="1453.65" y2="1597.93" stroke="#333333" stroke-width="4.4" stroke-linecap="butt"/>
<line x1="1470.02" y1="1587.13" x2="1470.02" y2="1597.93" stroke="#333333" stroke-width="4.4" stroke-linecap="butt"/>
<line x1="1486.39" y1="1587.13" x2="1486.39" y2="1597.93" stroke="#333333" stroke-width="4.4" stroke-linecap="butt"/>
<line x1="1502.76" y1="1587.13" x2="1502.76" y2="1597.93" stroke="#333333" stroke-width="4.4" stroke-linecap="butt"/>
<line x1="1519.13" y1="1587.13" x2="1519.13" y2="1597.93" stroke="#333333" stroke-width="4.4" stroke-linecap="butt"/>
<line x1="1535.50" y1="1587.13" x2="1535.50" y2="1597.93" stroke="#333333" stroke-width="4.4" stroke-linecap="butt"/>
<line x1="1551.87" y1="1587.13" x2="1551.87" y2="1597.93" stroke="#333333" stroke-width="4.4" stroke-linecap="butt"/>
<line x1="1568.24" y1="1587.13" x2="1568.24" y2="1597.93" stroke="#333333" stroke-width="4.4" stroke-linecap="butt"/>
<line x1="1584.61" y1="1587.13" x2="1584.61" y2="1597.93" stroke="#333333" stroke-width="4.4" stroke-linecap="butt"/>
<line x1="1600.98" y1="1587.13" x2="1600.98" y2="1597.93" stroke="#333333" stroke-width="4.4" stroke-linecap="butt"/>
<line x1="1617.35" y1="1587.13" x2="1617.35" y2="1597.93" stroke="#333333" stroke-width="4.4" stroke-linecap="butt"/>
<rect x="1694.64" y="1574.53" width="15.00" height="0.80" fill="#e377c2"/>
<rect x="1743.75" y="1574.73" width="15.00" height="0.60" fill="#e377c2"/>
<rect x="1760.12" y="1574.53" width="15.00" height="0.80" fill="#e377c2"/>
<rect x="1776.49" y="1574.33" width="15.00" height="1.00" fill="#e377c2"/>
<rect x="1825.60" y="1574.13" width="15.00" height="1.20" fill="#e377c2"/>
<rect x="1841.97" y="1574.53" width="15.00" height="0.80" fill="#e377c2"/>
<rect x="1874.71" y="1574.53" width="15.00" height="0.80" fill="#e377c2"/>
<rect x="1891.08" y="1574.53" width="15.00" height="0.80" fill="#e377c2"/>
<rect x="1907.45" y="1574.43" width="15.00" height="0.90" fill="#e377c2"/>
<line x1="1659.40" y1="1315.83" x2="1659.40" y2="1588.13" stroke="#000" stroke-width="4.4" stroke-linecap="butt"/>
<line x1="1659.40" y1="1587.13" x2="1925.20" y2="1587.13" stroke="#000" stroke-width="4.0" stroke-linecap="butt"/>
<line x1="1648.60" y1="1575.33" x2="1659.40" y2="1575.33" stroke="#333333" stroke-width="4.0" stroke-linecap="butt"/>
<line x1="1648.60" y1="1489.93" x2="1659.40" y2="1489.93" stroke="#333333" stroke-width="4.0" stroke-linecap="butt"/>
<line x1="1648.60" y1="1404.53" x2="1659.40" y2="1404.53" stroke="#333333" stroke-width="4.0" stroke-linecap="butt"/>
<line x1="1648.60" y1="1319.13" x2="1659.40" y2="1319.13" stroke="#333333" stroke-width="4.0" stroke-linecap="butt"/>
<line x1="1669.40" y1="1587.13" x2="1669.40" y2="1597.93" stroke="#333333" stroke-width="4.4" stroke-linecap="butt"/>
<line x1="1685.77" y1="1587.13" x2="1685.77" y2="1597.93" stroke="#333333" stroke-width="4.4" stroke-linecap="butt"/>
<line x1="1702.14" y1="1587.13" x2="1702.14" y2="1597.93" stroke="#333333" stroke-width="4.4" stroke-linecap="butt"/>
<line x1="1718.51" y1="1587.13" x2="1718.51" y2="1597.93" stroke="#333333" stroke-width="4.4" stroke-linecap="butt"/>
<line x1="1734.88" y1="1587.13" x2="1734.88" y2="1597.93" stroke="#333333" stroke-width="4.4" stroke-linecap="butt"/>
<line x1="1751.25" y1="1587.13" x2="1751.25" y2="1597.93" stroke="#333333" stroke-width="4.4" stroke-linecap="butt"/>
<line x1="1767.62" y1="1587.13" x2="1767.62" y2="1597.93" stroke="#333333" stroke-width="4.4" stroke-linecap="butt"/>
<line x1="1783.99" y1="1587.13" x2="1783.99" y2="1597.93" stroke="#333333" stroke-width="4.4" stroke-linecap="butt"/>
<line x1="1800.36" y1="1587.13" x2="1800.36" y2="1597.93" stroke="#333333" stroke-width="4.4" stroke-linecap="butt"/>
<line x1="1816.73" y1="1587.13" x2="1816.73" y2="1597.93" stroke="#333333" stroke-width="4.4" stroke-linecap="butt"/>
<line x1="1833.10" y1="1587.13" x2="1833.10" y2="1597.93" stroke="#333333" stroke-width="4.4" stroke-linecap="butt"/>
<line x1="1849.47" y1="1587.13" x2="1849.47" y2="1597.93" stroke="#333333" stroke-width="4.4" stroke-linecap="butt"/>
<line x1="1865.84" y1="1587.13" x2="1865.84" y2="1597.93" stroke="#333333" stroke-width="4.4" stroke-linecap="butt"/>
<line x1="1882.21" y1="1587.13" x2="1882.21" y2="1597.93" stroke="#333333" stroke-width="4.4" stroke-linecap="butt"/>
<line x1="1898.58" y1="1587.13" x2="1898.58" y2="1597.93" stroke="#333333" stroke-width="4.4" stroke-linecap="butt"/>
<line x1="1914.95" y1="1587.13" x2="1914.95" y2="1597.93" stroke="#333333" stroke-width="4.4" stroke-linecap="butt"/>
<text transform="translate(1945.00,1451.48) rotate(90)" font-size="30.70" fill="#0c2f5a" text-anchor="middle">Signature 7</text>
<rect x="173.90" y="1855.96" width="15.00" height="17.00" fill="#1f77b4"/>
<rect x="190.27" y="1851.86" width="15.00" height="21.10" fill="#1f77b4"/>
<rect x="206.64" y="1865.66" width="15.00" height="7.30" fill="#1f77b4"/>
<rect x="223.01" y="1863.26" width="15.00" height="9.70" fill="#1f77b4"/>
<rect x="239.38" y="1847.16" width="15.00" height="25.80" fill="#1f77b4"/>
<rect x="255.75" y="1856.76" width="15.00" height="16.20" fill="#1f77b4"/>
<rect x="272.12" y="1861.26" width="15.00" height="11.70" fill="#1f77b4"/>
<rect x="288.49" y="1857.66" width="15.00" height="15.30" fill="#1f77b4"/>
<rect x="304.86" y="1855.96" width="15.00" height="17.00" fill="#1f77b4"/>
<rect x="321.23" y="1858.26" width="15.00" height="14.70" fill="#1f77b4"/>
<rect x="337.60" y="1861.56" width="15.00" height="11.40" fill="#1f77b4"/>
<rect x="353.97" y="1857.06" width="15.00" height="15.90" fill="#1f77b4"/>
<rect x="370.34" y="1862.66" width="15.00" height="10.30" fill="#1f77b4"/>
<rect x="386.71" y="1857.06" width="15.00" height="15.90" fill="#1f77b4"/>
<rect x="403.08" y="1867.96" width="15.00" height="5.00" fill="#1f77b4"/>
<rect x="419.45" y="1858.26" width="15.00" height="14.70" fill="#1f77b4"/>
<line x1="171.40" y1="1613.46" x2="171.40" y2="1885.76" stroke="#000" stroke-width="4.4" stroke-linecap="butt"/>
<line x1="171.40" y1="1884.76" x2="437.20" y2="1884.76" stroke="#000" stroke-width="4.0" stroke-linecap="butt"/>
<line x1="160.60" y1="1872.96" x2="171.40" y2="1872.96" stroke="#333333" stroke-width="4.0" stroke-linecap="butt"/>
<text transform="translate(152.70,1881.16) scale(1.0000,1.0100)" font-size="23.10" text-anchor="end">0.000</text>
<line x1="160.60" y1="1808.71" x2="171.40" y2="1808.71" stroke="#333333" stroke-width="4.0" stroke-linecap="butt"/>
<text transform="translate(152.70,1816.91) scale(1.0000,1.0100)" font-size="23.10" text-anchor="end">0.025</text>
<line x1="160.60" y1="1744.46" x2="171.40" y2="1744.46" stroke="#333333" stroke-width="4.0" stroke-linecap="butt"/>
<text transform="translate(152.70,1752.66) scale(1.0000,1.0100)" font-size="23.10" text-anchor="end">0.050</text>
<line x1="160.60" y1="1680.21" x2="171.40" y2="1680.21" stroke="#333333" stroke-width="4.0" stroke-linecap="butt"/>
<text transform="translate(152.70,1688.41) scale(1.0000,1.0100)" font-size="23.10" text-anchor="end">0.075</text>
<line x1="160.60" y1="1615.96" x2="171.40" y2="1615.96" stroke="#333333" stroke-width="4.0" stroke-linecap="butt"/>
<text transform="translate(152.70,1624.16) scale(1.0000,1.0100)" font-size="23.10" text-anchor="end">0.100</text>
<line x1="181.40" y1="1884.76" x2="181.40" y2="1895.56" stroke="#333333" stroke-width="4.4" stroke-linecap="butt"/>
<line x1="197.77" y1="1884.76" x2="197.77" y2="1895.56" stroke="#333333" stroke-width="4.4" stroke-linecap="butt"/>
<line x1="214.14" y1="1884.76" x2="214.14" y2="1895.56" stroke="#333333" stroke-width="4.4" stroke-linecap="butt"/>
<line x1="230.51" y1="1884.76" x2="230.51" y2="1895.56" stroke="#333333" stroke-width="4.4" stroke-linecap="butt"/>
<line x1="246.88" y1="1884.76" x2="246.88" y2="1895.56" stroke="#333333" stroke-width="4.4" stroke-linecap="butt"/>
<line x1="263.25" y1="1884.76" x2="263.25" y2="1895.56" stroke="#333333" stroke-width="4.4" stroke-linecap="butt"/>
<line x1="279.62" y1="1884.76" x2="279.62" y2="1895.56" stroke="#333333" stroke-width="4.4" stroke-linecap="butt"/>
<line x1="295.99" y1="1884.76" x2="295.99" y2="1895.56" stroke="#333333" stroke-width="4.4" stroke-linecap="butt"/>
<line x1="312.36" y1="1884.76" x2="312.36" y2="1895.56" stroke="#333333" stroke-width="4.4" stroke-linecap="butt"/>
<line x1="328.73" y1="1884.76" x2="328.73" y2="1895.56" stroke="#333333" stroke-width="4.4" stroke-linecap="butt"/>
<line x1="345.10" y1="1884.76" x2="345.10" y2="1895.56" stroke="#333333" stroke-width="4.4" stroke-linecap="butt"/>
<line x1="361.47" y1="1884.76" x2="361.47" y2="1895.56" stroke="#333333" stroke-width="4.4" stroke-linecap="butt"/>
<line x1="377.84" y1="1884.76" x2="377.84" y2="1895.56" stroke="#333333" stroke-width="4.4" stroke-linecap="butt"/>
<line x1="394.21" y1="1884.76" x2="394.21" y2="1895.56" stroke="#333333" stroke-width="4.4" stroke-linecap="butt"/>
<line x1="410.58" y1="1884.76" x2="410.58" y2="1895.56" stroke="#333333" stroke-width="4.4" stroke-linecap="butt"/>
<line x1="426.95" y1="1884.76" x2="426.95" y2="1895.56" stroke="#333333" stroke-width="4.4" stroke-linecap="butt"/>
<rect x="471.50" y="1861.56" width="15.00" height="11.40" fill="#0c2c54"/>
<rect x="487.87" y="1862.06" width="15.00" height="10.90" fill="#0c2c54"/>
<rect x="504.24" y="1866.76" width="15.00" height="6.20" fill="#0c2c54"/>
<rect x="520.61" y="1859.16" width="15.00" height="13.80" fill="#0c2c54"/>
<rect x="536.98" y="1863.46" width="15.00" height="9.50" fill="#0c2c54"/>
<rect x="553.35" y="1858.26" width="15.00" height="14.70" fill="#0c2c54"/>
<rect x="569.72" y="1866.76" width="15.00" height="6.20" fill="#0c2c54"/>
<rect x="586.09" y="1859.96" width="15.00" height="13.00" fill="#0c2c54"/>
<rect x="602.46" y="1862.66" width="15.00" height="10.30" fill="#0c2c54"/>
<rect x="618.83" y="1857.36" width="15.00" height="15.60" fill="#0c2c54"/>
<rect x="635.20" y="1865.26" width="15.00" height="7.70" fill="#0c2c54"/>
<rect x="651.57" y="1860.26" width="15.00" height="12.70" fill="#0c2c54"/>
<rect x="667.94" y="1863.46" width="15.00" height="9.50" fill="#0c2c54"/>
<rect x="684.31" y="1858.86" width="15.00" height="14.10" fill="#0c2c54"/>
<rect x="700.68" y="1867.16" width="15.00" height="5.80" fill="#0c2c54"/>
<rect x="717.05" y="1853.56" width="15.00" height="19.40" fill="#0c2c54"/>
<line x1="469.00" y1="1613.46" x2="469.00" y2="1885.76" stroke="#000" stroke-width="4.4" stroke-linecap="butt"/>
<line x1="469.00" y1="1884.76" x2="734.80" y2="1884.76" stroke="#000" stroke-width="4.0" stroke-linecap="butt"/>
<line x1="458.20" y1="1872.96" x2="469.00" y2="1872.96" stroke="#333333" stroke-width="4.0" stroke-linecap="butt"/>
<line x1="458.20" y1="1808.71" x2="469.00" y2="1808.71" stroke="#333333" stroke-width="4.0" stroke-linecap="butt"/>
<line x1="458.20" y1="1744.46" x2="469.00" y2="1744.46" stroke="#333333" stroke-width="4.0" stroke-linecap="butt"/>
<line x1="458.20" y1="1680.21" x2="469.00" y2="1680.21" stroke="#333333" stroke-width="4.0" stroke-linecap="butt"/>
<line x1="458.20" y1="1615.96" x2="469.00" y2="1615.96" stroke="#333333" stroke-width="4.0" stroke-linecap="butt"/>
<line x1="479.00" y1="1884.76" x2="479.00" y2="1895.56" stroke="#333333" stroke-width="4.4" stroke-linecap="butt"/>
<line x1="495.37" y1="1884.76" x2="495.37" y2="1895.56" stroke="#333333" stroke-width="4.4" stroke-linecap="butt"/>
<line x1="511.74" y1="1884.76" x2="511.74" y2="1895.56" stroke="#333333" stroke-width="4.4" stroke-linecap="butt"/>
<line x1="528.11" y1="1884.76" x2="528.11" y2="1895.56" stroke="#333333" stroke-width="4.4" stroke-linecap="butt"/>
<line x1="544.48" y1="1884.76" x2="544.48" y2="1895.56" stroke="#333333" stroke-width="4.4" stroke-linecap="butt"/>
<line x1="560.85" y1="1884.76" x2="560.85" y2="1895.56" stroke="#333333" stroke-width="4.4" stroke-linecap="butt"/>
<line x1="577.22" y1="1884.76" x2="577.22" y2="1895.56" stroke="#333333" stroke-width="4.4" stroke-linecap="butt"/>
<line x1="593.59" y1="1884.76" x2="593.59" y2="1895.56" stroke="#333333" stroke-width="4.4" stroke-linecap="butt"/>
<line x1="609.96" y1="1884.76" x2="609.96" y2="1895.56" stroke="#333333" stroke-width="4.4" stroke-linecap="butt"/>
<line x1="626.33" y1="1884.76" x2="626.33" y2="1895.56" stroke="#333333" stroke-width="4.4" stroke-linecap="butt"/>
<line x1="642.70" y1="1884.76" x2="642.70" y2="1895.56" stroke="#333333" stroke-width="4.4" stroke-linecap="butt"/>
<line x1="659.07" y1="1884.76" x2="659.07" y2="1895.56" stroke="#333333" stroke-width="4.4" stroke-linecap="butt"/>
<line x1="675.44" y1="1884.76" x2="675.44" y2="1895.56" stroke="#333333" stroke-width="4.4" stroke-linecap="butt"/>
<line x1="691.81" y1="1884.76" x2="691.81" y2="1895.56" stroke="#333333" stroke-width="4.4" stroke-linecap="butt"/>
<line x1="708.18" y1="1884.76" x2="708.18" y2="1895.56" stroke="#333333" stroke-width="4.4" stroke-linecap="butt"/>
<line x1="724.55" y1="1884.76" x2="724.55" y2="1895.56" stroke="#333333" stroke-width="4.4" stroke-linecap="butt"/>
<rect x="769.10" y="1853.16" width="15.00" height="19.80" fill="#d62728"/>
<rect x="785.47" y="1826.26" width="15.00" height="46.70" fill="#d62728"/>
<rect x="801.84" y="1705.96" width="15.00" height="167.00" fill="#d62728"/>
<rect x="818.21" y="1848.16" width="15.00" height="24.80" fill="#d62728"/>
<rect x="834.58" y="1790.96" width="15.00" height="82.00" fill="#d62728"/>
<rect x="850.95" y="1752.96" width="15.00" height="120.00" fill="#d62728"/>
<rect x="867.32" y="1697.46" width="15.00" height="175.50" fill="#d62728"/>
<rect x="883.69" y="1784.36" width="15.00" height="88.60" fill="#d62728"/>
<rect x="900.06" y="1847.46" width="15.00" height="25.50" fill="#d62728"/>
<rect x="916.43" y="1820.86" width="15.00" height="52.10" fill="#d62728"/>
<rect x="932.80" y="1711.76" width="15.00" height="161.20" fill="#d62728"/>
<rect x="949.17" y="1833.86" width="15.00" height="39.10" fill="#d62728"/>
<rect x="965.54" y="1781.16" width="15.00" height="91.80" fill="#d62728"/>
<rect x="981.91" y="1626.16" width="15.00" height="246.80" fill="#d62728"/>
<rect x="998.28" y="1714.16" width="15.00" height="158.80" fill="#d62728"/>
<rect x="1014.65" y="1778.76" width="15.00" height="94.20" fill="#d62728"/>
<line x1="766.60" y1="1613.46" x2="766.60" y2="1885.76" stroke="#000" stroke-width="4.4" stroke-linecap="butt"/>
<line x1="766.60" y1="1884.76" x2="1032.40" y2="1884.76" stroke="#000" stroke-width="4.0" stroke-linecap="butt"/>
<line x1="755.80" y1="1872.96" x2="766.60" y2="1872.96" stroke="#333333" stroke-width="4.0" stroke-linecap="butt"/>
<line x1="755.80" y1="1808.71" x2="766.60" y2="1808.71" stroke="#333333" stroke-width="4.0" stroke-linecap="butt"/>
<line x1="755.80" y1="1744.46" x2="766.60" y2="1744.46" stroke="#333333" stroke-width="4.0" stroke-linecap="butt"/>
<line x1="755.80" y1="1680.21" x2="766.60" y2="1680.21" stroke="#333333" stroke-width="4.0" stroke-linecap="butt"/>
<line x1="755.80" y1="1615.96" x2="766.60" y2="1615.96" stroke="#333333" stroke-width="4.0" stroke-linecap="butt"/>
<line x1="776.60" y1="1884.76" x2="776.60" y2="1895.56" stroke="#333333" stroke-width="4.4" stroke-linecap="butt"/>
<line x1="792.97" y1="1884.76" x2="792.97" y2="1895.56" stroke="#333333" stroke-width="4.4" stroke-linecap="butt"/>
<line x1="809.34" y1="1884.76" x2="809.34" y2="1895.56" stroke="#333333" stroke-width="4.4" stroke-linecap="butt"/>
<line x1="825.71" y1="1884.76" x2="825.71" y2="1895.56" stroke="#333333" stroke-width="4.4" stroke-linecap="butt"/>
<line x1="842.08" y1="1884.76" x2="842.08" y2="1895.56" stroke="#333333" stroke-width="4.4" stroke-linecap="butt"/>
<line x1="858.45" y1="1884.76" x2="858.45" y2="1895.56" stroke="#333333" stroke-width="4.4" stroke-linecap="butt"/>
<line x1="874.82" y1="1884.76" x2="874.82" y2="1895.56" stroke="#333333" stroke-width="4.4" stroke-linecap="butt"/>
<line x1="891.19" y1="1884.76" x2="891.19" y2="1895.56" stroke="#333333" stroke-width="4.4" stroke-linecap="butt"/>
<line x1="907.56" y1="1884.76" x2="907.56" y2="1895.56" stroke="#333333" stroke-width="4.4" stroke-linecap="butt"/>
<line x1="923.93" y1="1884.76" x2="923.93" y2="1895.56" stroke="#333333" stroke-width="4.4" stroke-linecap="butt"/>
<line x1="940.30" y1="1884.76" x2="940.30" y2="1895.56" stroke="#333333" stroke-width="4.4" stroke-linecap="butt"/>
<line x1="956.67" y1="1884.76" x2="956.67" y2="1895.56" stroke="#333333" stroke-width="4.4" stroke-linecap="butt"/>
<line x1="973.04" y1="1884.76" x2="973.04" y2="1895.56" stroke="#333333" stroke-width="4.4" stroke-linecap="butt"/>
<line x1="989.41" y1="1884.76" x2="989.41" y2="1895.56" stroke="#333333" stroke-width="4.4" stroke-linecap="butt"/>
<line x1="1005.78" y1="1884.76" x2="1005.78" y2="1895.56" stroke="#333333" stroke-width="4.4" stroke-linecap="butt"/>
<line x1="1022.15" y1="1884.76" x2="1022.15" y2="1895.56" stroke="#333333" stroke-width="4.4" stroke-linecap="butt"/>
<rect x="1066.70" y="1866.46" width="15.00" height="6.50" fill="#7f7f7f"/>
<rect x="1083.07" y="1863.46" width="15.00" height="9.50" fill="#7f7f7f"/>
<rect x="1099.44" y="1862.06" width="15.00" height="10.90" fill="#7f7f7f"/>
<rect x="1115.81" y="1864.46" width="15.00" height="8.50" fill="#7f7f7f"/>
<rect x="1132.18" y="1870.96" width="15.00" height="2.00" fill="#7f7f7f"/>
<rect x="1148.55" y="1865.36" width="15.00" height="7.60" fill="#7f7f7f"/>
<rect x="1164.92" y="1866.16" width="15.00" height="6.80" fill="#7f7f7f"/>
<rect x="1181.29" y="1865.26" width="15.00" height="7.70" fill="#7f7f7f"/>
<rect x="1197.66" y="1869.46" width="15.00" height="3.50" fill="#7f7f7f"/>
<rect x="1214.03" y="1864.36" width="15.00" height="8.60" fill="#7f7f7f"/>
<rect x="1230.40" y="1868.26" width="15.00" height="4.70" fill="#7f7f7f"/>
<rect x="1246.77" y="1868.56" width="15.00" height="4.40" fill="#7f7f7f"/>
<rect x="1263.14" y="1867.76" width="15.00" height="5.20" fill="#7f7f7f"/>
<rect x="1279.51" y="1867.76" width="15.00" height="5.20" fill="#7f7f7f"/>
<rect x="1295.88" y="1868.76" width="15.00" height="4.20" fill="#7f7f7f"/>
<rect x="1312.25" y="1863.46" width="15.00" height="9.50" fill="#7f7f7f"/>
<line x1="1064.20" y1="1613.46" x2="1064.20" y2="1885.76" stroke="#000" stroke-width="4.4" stroke-linecap="butt"/>
<line x1="1064.20" y1="1884.76" x2="1330.00" y2="1884.76" stroke="#000" stroke-width="4.0" stroke-linecap="butt"/>
<line x1="1053.40" y1="1872.96" x2="1064.20" y2="1872.96" stroke="#333333" stroke-width="4.0" stroke-linecap="butt"/>
<line x1="1053.40" y1="1808.71" x2="1064.20" y2="1808.71" stroke="#333333" stroke-width="4.0" stroke-linecap="butt"/>
<line x1="1053.40" y1="1744.46" x2="1064.20" y2="1744.46" stroke="#333333" stroke-width="4.0" stroke-linecap="butt"/>
<line x1="1053.40" y1="1680.21" x2="1064.20" y2="1680.21" stroke="#333333" stroke-width="4.0" stroke-linecap="butt"/>
<line x1="1053.40" y1="1615.96" x2="1064.20" y2="1615.96" stroke="#333333" stroke-width="4.0" stroke-linecap="butt"/>
<line x1="1074.20" y1="1884.76" x2="1074.20" y2="1895.56" stroke="#333333" stroke-width="4.4" stroke-linecap="butt"/>
<line x1="1090.57" y1="1884.76" x2="1090.57" y2="1895.56" stroke="#333333" stroke-width="4.4" stroke-linecap="butt"/>
<line x1="1106.94" y1="1884.76" x2="1106.94" y2="1895.56" stroke="#333333" stroke-width="4.4" stroke-linecap="butt"/>
<line x1="1123.31" y1="1884.76" x2="1123.31" y2="1895.56" stroke="#333333" stroke-width="4.4" stroke-linecap="butt"/>
<line x1="1139.68" y1="1884.76" x2="1139.68" y2="1895.56" stroke="#333333" stroke-width="4.4" stroke-linecap="butt"/>
<line x1="1156.05" y1="1884.76" x2="1156.05" y2="1895.56" stroke="#333333" stroke-width="4.4" stroke-linecap="butt"/>
<line x1="1172.42" y1="1884.76" x2="1172.42" y2="1895.56" stroke="#333333" stroke-width="4.4" stroke-linecap="butt"/>
<line x1="1188.79" y1="1884.76" x2="1188.79" y2="1895.56" stroke="#333333" stroke-width="4.4" stroke-linecap="butt"/>
<line x1="1205.16" y1="1884.76" x2="1205.16" y2="1895.56" stroke="#333333" stroke-width="4.4" stroke-linecap="butt"/>
<line x1="1221.53" y1="1884.76" x2="1221.53" y2="1895.56" stroke="#333333" stroke-width="4.4" stroke-linecap="butt"/>
<line x1="1237.90" y1="1884.76" x2="1237.90" y2="1895.56" stroke="#333333" stroke-width="4.4" stroke-linecap="butt"/>
<line x1="1254.27" y1="1884.76" x2="1254.27" y2="1895.56" stroke="#333333" stroke-width="4.4" stroke-linecap="butt"/>
<line x1="1270.64" y1="1884.76" x2="1270.64" y2="1895.56" stroke="#333333" stroke-width="4.4" stroke-linecap="butt"/>
<line x1="1287.01" y1="1884.76" x2="1287.01" y2="1895.56" stroke="#333333" stroke-width="4.4" stroke-linecap="butt"/>
<line x1="1303.38" y1="1884.76" x2="1303.38" y2="1895.56" stroke="#333333" stroke-width="4.4" stroke-linecap="butt"/>
<line x1="1319.75" y1="1884.76" x2="1319.75" y2="1895.56" stroke="#333333" stroke-width="4.4" stroke-linecap="butt"/>
<rect x="1364.30" y="1852.76" width="15.00" height="20.20" fill="#98df8a"/>
<rect x="1380.67" y="1857.96" width="15.00" height="15.00" fill="#98df8a"/>
<rect x="1397.04" y="1834.06" width="15.00" height="38.90" fill="#98df8a"/>
<rect x="1413.41" y="1851.16" width="15.00" height="21.80" fill="#98df8a"/>
<rect x="1429.78" y="1864.06" width="15.00" height="8.90" fill="#98df8a"/>
<rect x="1446.15" y="1853.56" width="15.00" height="19.40" fill="#98df8a"/>
<rect x="1462.52" y="1830.06" width="15.00" height="42.90" fill="#98df8a"/>
<rect x="1478.89" y="1852.36" width="15.00" height="20.60" fill="#98df8a"/>
<rect x="1495.26" y="1855.66" width="15.00" height="17.30" fill="#98df8a"/>
<rect x="1511.63" y="1851.56" width="15.00" height="21.40" fill="#98df8a"/>
<rect x="1528.00" y="1844.96" width="15.00" height="28.00" fill="#98df8a"/>
<rect x="1544.37" y="1850.36" width="15.00" height="22.60" fill="#98df8a"/>
<rect x="1560.74" y="1865.26" width="15.00" height="7.70" fill="#98df8a"/>
<rect x="1577.11" y="1850.36" width="15.00" height="22.60" fill="#98df8a"/>
<rect x="1593.48" y="1861.46" width="15.00" height="11.50" fill="#98df8a"/>
<rect x="1609.85" y="1857.46" width="15.00" height="15.50" fill="#98df8a"/>
<line x1="1361.80" y1="1613.46" x2="1361.80" y2="1885.76" stroke="#000" stroke-width="4.4" stroke-linecap="butt"/>
<line x1="1361.80" y1="1884.76" x2="1627.60" y2="1884.76" stroke="#000" stroke-width="4.0" stroke-linecap="butt"/>
<line x1="1351.00" y1="1872.96" x2="1361.80" y2="1872.96" stroke="#333333" stroke-width="4.0" stroke-linecap="butt"/>
<line x1="1351.00" y1="1808.71" x2="1361.80" y2="1808.71" stroke="#333333" stroke-width="4.0" stroke-linecap="butt"/>
<line x1="1351.00" y1="1744.46" x2="1361.80" y2="1744.46" stroke="#333333" stroke-width="4.0" stroke-linecap="butt"/>
<line x1="1351.00" y1="1680.21" x2="1361.80" y2="1680.21" stroke="#333333" stroke-width="4.0" stroke-linecap="butt"/>
<line x1="1351.00" y1="1615.96" x2="1361.80" y2="1615.96" stroke="#333333" stroke-width="4.0" stroke-linecap="butt"/>
<line x1="1371.80" y1="1884.76" x2="1371.80" y2="1895.56" stroke="#333333" stroke-width="4.4" stroke-linecap="butt"/>
<line x1="1388.17" y1="1884.76" x2="1388.17" y2="1895.56" stroke="#333333" stroke-width="4.4" stroke-linecap="butt"/>
<line x1="1404.54" y1="1884.76" x2="1404.54" y2="1895.56" stroke="#333333" stroke-width="4.4" stroke-linecap="butt"/>
<line x1="1420.91" y1="1884.76" x2="1420.91" y2="1895.56" stroke="#333333" stroke-width="4.4" stroke-linecap="butt"/>
<line x1="1437.28" y1="1884.76" x2="1437.28" y2="1895.56" stroke="#333333" stroke-width="4.4" stroke-linecap="butt"/>
<line x1="1453.65" y1="1884.76" x2="1453.65" y2="1895.56" stroke="#333333" stroke-width="4.4" stroke-linecap="butt"/>
<line x1="1470.02" y1="1884.76" x2="1470.02" y2="1895.56" stroke="#333333" stroke-width="4.4" stroke-linecap="butt"/>
<line x1="1486.39" y1="1884.76" x2="1486.39" y2="1895.56" stroke="#333333" stroke-width="4.4" stroke-linecap="butt"/>
<line x1="1502.76" y1="1884.76" x2="1502.76" y2="1895.56" stroke="#333333" stroke-width="4.4" stroke-linecap="butt"/>
<line x1="1519.13" y1="1884.76" x2="1519.13" y2="1895.56" stroke="#333333" stroke-width="4.4" stroke-linecap="butt"/>
<line x1="1535.50" y1="1884.76" x2="1535.50" y2="1895.56" stroke="#333333" stroke-width="4.4" stroke-linecap="butt"/>
<line x1="1551.87" y1="1884.76" x2="1551.87" y2="1895.56" stroke="#333333" stroke-width="4.4" stroke-linecap="butt"/>
<line x1="1568.24" y1="1884.76" x2="1568.24" y2="1895.56" stroke="#333333" stroke-width="4.4" stroke-linecap="butt"/>
<line x1="1584.61" y1="1884.76" x2="1584.61" y2="1895.56" stroke="#333333" stroke-width="4.4" stroke-linecap="butt"/>
<line x1="1600.98" y1="1884.76" x2="1600.98" y2="1895.56" stroke="#333333" stroke-width="4.4" stroke-linecap="butt"/>
<line x1="1617.35" y1="1884.76" x2="1617.35" y2="1895.56" stroke="#333333" stroke-width="4.4" stroke-linecap="butt"/>
<rect x="1661.90" y="1866.76" width="15.00" height="6.20" fill="#e377c2"/>
<rect x="1678.27" y="1863.46" width="15.00" height="9.50" fill="#e377c2"/>
<rect x="1694.64" y="1859.36" width="15.00" height="13.60" fill="#e377c2"/>
<rect x="1711.01" y="1865.36" width="15.00" height="7.60" fill="#e377c2"/>
<rect x="1727.38" y="1869.66" width="15.00" height="3.30" fill="#e377c2"/>
<rect x="1743.75" y="1866.26" width="15.00" height="6.70" fill="#e377c2"/>
<rect x="1760.12" y="1860.06" width="15.00" height="12.90" fill="#e377c2"/>
<rect x="1776.49" y="1863.26" width="15.00" height="9.70" fill="#e377c2"/>
<rect x="1792.86" y="1868.16" width="15.00" height="4.80" fill="#e377c2"/>
<rect x="1809.23" y="1864.36" width="15.00" height="8.60" fill="#e377c2"/>
<rect x="1825.60" y="1859.16" width="15.00" height="13.80" fill="#e377c2"/>
<rect x="1841.97" y="1867.16" width="15.00" height="5.80" fill="#e377c2"/>
<rect x="1858.34" y="1869.36" width="15.00" height="3.60" fill="#e377c2"/>
<rect x="1874.71" y="1862.96" width="15.00" height="10.00" fill="#e377c2"/>
<rect x="1891.08" y="1865.66" width="15.00" height="7.30" fill="#e377c2"/>
<rect x="1907.45" y="1863.26" width="15.00" height="9.70" fill="#e377c2"/>
<line x1="1659.40" y1="1613.46" x2="1659.40" y2="1885.76" stroke="#000" stroke-width="4.4" stroke-linecap="butt"/>
<line x1="1659.40" y1="1884.76" x2="1925.20" y2="1884.76" stroke="#000" stroke-width="4.0" stroke-linecap="butt"/>
<line x1="1648.60" y1="1872.96" x2="1659.40" y2="1872.96" stroke="#333333" stroke-width="4.0" stroke-linecap="butt"/>
<line x1="1648.60" y1="1808.71" x2="1659.40" y2="1808.71" stroke="#333333" stroke-width="4.0" stroke-linecap="butt"/>
<line x1="1648.60" y1="1744.46" x2="1659.40" y2="1744.46" stroke="#333333" stroke-width="4.0" stroke-linecap="butt"/>
<line x1="1648.60" y1="1680.21" x2="1659.40" y2="1680.21" stroke="#333333" stroke-width="4.0" stroke-linecap="butt"/>
<line x1="1648.60" y1="1615.96" x2="1659.40" y2="1615.96" stroke="#333333" stroke-width="4.0" stroke-linecap="butt"/>
<line x1="1669.40" y1="1884.76" x2="1669.40" y2="1895.56" stroke="#333333" stroke-width="4.4" stroke-linecap="butt"/>
<line x1="1685.77" y1="1884.76" x2="1685.77" y2="1895.56" stroke="#333333" stroke-width="4.4" stroke-linecap="butt"/>
<line x1="1702.14" y1="1884.76" x2="1702.14" y2="1895.56" stroke="#333333" stroke-width="4.4" stroke-linecap="butt"/>
<line x1="1718.51" y1="1884.76" x2="1718.51" y2="1895.56" stroke="#333333" stroke-width="4.4" stroke-linecap="butt"/>
<line x1="1734.88" y1="1884.76" x2="1734.88" y2="1895.56" stroke="#333333" stroke-width="4.4" stroke-linecap="butt"/>
<line x1="1751.25" y1="1884.76" x2="1751.25" y2="1895.56" stroke="#333333" stroke-width="4.4" stroke-linecap="butt"/>
<line x1="1767.62" y1="1884.76" x2="1767.62" y2="1895.56" stroke="#333333" stroke-width="4.4" stroke-linecap="butt"/>
<line x1="1783.99" y1="1884.76" x2="1783.99" y2="1895.56" stroke="#333333" stroke-width="4.4" stroke-linecap="butt"/>
<line x1="1800.36" y1="1884.76" x2="1800.36" y2="1895.56" stroke="#333333" stroke-width="4.4" stroke-linecap="butt"/>
<line x1="1816.73" y1="1884.76" x2="1816.73" y2="1895.56" stroke="#333333" stroke-width="4.4" stroke-linecap="butt"/>
<line x1="1833.10" y1="1884.76" x2="1833.10" y2="1895.56" stroke="#333333" stroke-width="4.4" stroke-linecap="butt"/>
<line x1="1849.47" y1="1884.76" x2="1849.47" y2="1895.56" stroke="#333333" stroke-width="4.4" stroke-linecap="butt"/>
<line x1="1865.84" y1="1884.76" x2="1865.84" y2="1895.56" stroke="#333333" stroke-width="4.4" stroke-linecap="butt"/>
<line x1="1882.21" y1="1884.76" x2="1882.21" y2="1895.56" stroke="#333333" stroke-width="4.4" stroke-linecap="butt"/>
<line x1="1898.58" y1="1884.76" x2="1898.58" y2="1895.56" stroke="#333333" stroke-width="4.4" stroke-linecap="butt"/>
<line x1="1914.95" y1="1884.76" x2="1914.95" y2="1895.56" stroke="#333333" stroke-width="4.4" stroke-linecap="butt"/>
<text transform="translate(1945.00,1749.11) rotate(90)" font-size="30.70" fill="#0c2f5a" text-anchor="middle">Sezary Syndrome</text>
<rect x="173.90" y="2160.29" width="15.00" height="10.30" fill="#1f77b4"/>
<rect x="190.27" y="2162.29" width="15.00" height="8.30" fill="#1f77b4"/>
<rect x="206.64" y="2168.49" width="15.00" height="2.10" fill="#1f77b4"/>
<rect x="223.01" y="2166.69" width="15.00" height="3.90" fill="#1f77b4"/>
<rect x="239.38" y="2164.19" width="15.00" height="6.40" fill="#1f77b4"/>
<rect x="255.75" y="2167.59" width="15.00" height="3.00" fill="#1f77b4"/>
<rect x="272.12" y="2169.09" width="15.00" height="1.50" fill="#1f77b4"/>
<rect x="288.49" y="2165.39" width="15.00" height="5.20" fill="#1f77b4"/>
<rect x="304.86" y="2162.29" width="15.00" height="8.30" fill="#1f77b4"/>
<rect x="321.23" y="2166.69" width="15.00" height="3.90" fill="#1f77b4"/>
<rect x="337.60" y="2169.09" width="15.00" height="1.50" fill="#1f77b4"/>
<rect x="353.97" y="2167.39" width="15.00" height="3.20" fill="#1f77b4"/>
<rect x="370.34" y="2163.49" width="15.00" height="7.10" fill="#1f77b4"/>
<rect x="386.71" y="2161.09" width="15.00" height="9.50" fill="#1f77b4"/>
<rect x="403.08" y="2169.09" width="15.00" height="1.50" fill="#1f77b4"/>
<rect x="419.45" y="2162.29" width="15.00" height="8.30" fill="#1f77b4"/>
<line x1="171.40" y1="1911.09" x2="171.40" y2="2183.39" stroke="#000" stroke-width="4.4" stroke-linecap="butt"/>
<line x1="171.40" y1="2182.39" x2="437.20" y2="2182.39" stroke="#000" stroke-width="4.0" stroke-linecap="butt"/>
<line x1="160.60" y1="2170.59" x2="171.40" y2="2170.59" stroke="#333333" stroke-width="4.0" stroke-linecap="butt"/>
<text transform="translate(152.70,2178.79) scale(1.0000,1.0100)" font-size="23.10" text-anchor="end">0.00</text>
<line x1="160.60" y1="2107.87" x2="171.40" y2="2107.87" stroke="#333333" stroke-width="4.0" stroke-linecap="butt"/>
<text transform="translate(152.70,2116.07) scale(1.0000,1.0100)" font-size="23.10" text-anchor="end">0.05</text>
<line x1="160.60" y1="2045.14" x2="171.40" y2="2045.14" stroke="#333333" stroke-width="4.0" stroke-linecap="butt"/>
<text transform="translate(152.70,2053.34) scale(1.0000,1.0100)" font-size="23.10" text-anchor="end">0.10</text>
<line x1="160.60" y1="1982.42" x2="171.40" y2="1982.42" stroke="#333333" stroke-width="4.0" stroke-linecap="butt"/>
<text transform="translate(152.70,1990.62) scale(1.0000,1.0100)" font-size="23.10" text-anchor="end">0.15</text>
<line x1="160.60" y1="1919.69" x2="171.40" y2="1919.69" stroke="#333333" stroke-width="4.0" stroke-linecap="butt"/>
<text transform="translate(152.70,1927.89) scale(1.0000,1.0100)" font-size="23.10" text-anchor="end">0.20</text>
<line x1="181.40" y1="2182.39" x2="181.40" y2="2193.19" stroke="#333333" stroke-width="4.4" stroke-linecap="butt"/>
<line x1="197.77" y1="2182.39" x2="197.77" y2="2193.19" stroke="#333333" stroke-width="4.4" stroke-linecap="butt"/>
<line x1="214.14" y1="2182.39" x2="214.14" y2="2193.19" stroke="#333333" stroke-width="4.4" stroke-linecap="butt"/>
<line x1="230.51" y1="2182.39" x2="230.51" y2="2193.19" stroke="#333333" stroke-width="4.4" stroke-linecap="butt"/>
<line x1="246.88" y1="2182.39" x2="246.88" y2="2193.19" stroke="#333333" stroke-width="4.4" stroke-linecap="butt"/>
<line x1="263.25" y1="2182.39" x2="263.25" y2="2193.19" stroke="#333333" stroke-width="4.4" stroke-linecap="butt"/>
<line x1="279.62" y1="2182.39" x2="279.62" y2="2193.19" stroke="#333333" stroke-width="4.4" stroke-linecap="butt"/>
<line x1="295.99" y1="2182.39" x2="295.99" y2="2193.19" stroke="#333333" stroke-width="4.4" stroke-linecap="butt"/>
<line x1="312.36" y1="2182.39" x2="312.36" y2="2193.19" stroke="#333333" stroke-width="4.4" stroke-linecap="butt"/>
<line x1="328.73" y1="2182.39" x2="328.73" y2="2193.19" stroke="#333333" stroke-width="4.4" stroke-linecap="butt"/>
<line x1="345.10" y1="2182.39" x2="345.10" y2="2193.19" stroke="#333333" stroke-width="4.4" stroke-linecap="butt"/>
<line x1="361.47" y1="2182.39" x2="361.47" y2="2193.19" stroke="#333333" stroke-width="4.4" stroke-linecap="butt"/>
<line x1="377.84" y1="2182.39" x2="377.84" y2="2193.19" stroke="#333333" stroke-width="4.4" stroke-linecap="butt"/>
<line x1="394.21" y1="2182.39" x2="394.21" y2="2193.19" stroke="#333333" stroke-width="4.4" stroke-linecap="butt"/>
<line x1="410.58" y1="2182.39" x2="410.58" y2="2193.19" stroke="#333333" stroke-width="4.4" stroke-linecap="butt"/>
<line x1="426.95" y1="2182.39" x2="426.95" y2="2193.19" stroke="#333333" stroke-width="4.4" stroke-linecap="butt"/>
<text transform="translate(188.00,2204.30) rotate(-90)" font-size="19.00" text-anchor="end">A.A</text>
<text transform="translate(204.37,2204.30) rotate(-90)" font-size="19.00" text-anchor="end">A.C</text>
<text transform="translate(220.74,2204.30) rotate(-90)" font-size="19.00" text-anchor="end">A.G</text>
<text transform="translate(237.11,2204.30) rotate(-90)" font-size="19.00" text-anchor="end">A.T</text>
<text transform="translate(253.48,2204.30) rotate(-90)" font-size="19.00" text-anchor="end">C.A</text>
<text transform="translate(269.85,2204.30) rotate(-90)" font-size="19.00" text-anchor="end">C.C</text>
<text transform="translate(286.22,2204.30) rotate(-90)" font-size="19.00" text-anchor="end">C.G</text>
<text transform="translate(302.59,2204.30) rotate(-90)" font-size="19.00" text-anchor="end">C.T</text>
<text transform="translate(318.96,2204.30) rotate(-90)" font-size="19.00" text-anchor="end">G.A</text>
<text transform="translate(335.33,2204.30) rotate(-90)" font-size="19.00" text-anchor="end">G.C</text>
<text transform="translate(351.70,2204.30) rotate(-90)" font-size="19.00" text-anchor="end">G.G</text>
<text transform="translate(368.07,2204.30) rotate(-90)" font-size="19.00" text-anchor="end">G.T</text>
<text transform="translate(384.44,2204.30) rotate(-90)" font-size="19.00" text-anchor="end">T.A</text>
<text transform="translate(400.81,2204.30) rotate(-90)" font-size="19.00" text-anchor="end">T.C</text>
<text transform="translate(417.18,2204.30) rotate(-90)" font-size="19.00" text-anchor="end">T.G</text>
<text transform="translate(433.55,2204.30) rotate(-90)" font-size="19.00" text-anchor="end">T.T</text>
<rect x="471.50" y="2163.59" width="15.00" height="7.00" fill="#0c2c54"/>
<rect x="487.87" y="2169.09" width="15.00" height="1.50" fill="#0c2c54"/>
<rect x="504.24" y="2169.09" width="15.00" height="1.50" fill="#0c2c54"/>
<rect x="520.61" y="2169.09" width="15.00" height="1.50" fill="#0c2c54"/>
<rect x="536.98" y="2168.29" width="15.00" height="2.30" fill="#0c2c54"/>
<rect x="553.35" y="2166.39" width="15.00" height="4.20" fill="#0c2c54"/>
<rect x="569.72" y="2169.09" width="15.00" height="1.50" fill="#0c2c54"/>
<rect x="586.09" y="2167.39" width="15.00" height="3.20" fill="#0c2c54"/>
<rect x="602.46" y="2169.09" width="15.00" height="1.50" fill="#0c2c54"/>
<rect x="618.83" y="2164.19" width="15.00" height="6.40" fill="#0c2c54"/>
<rect x="635.20" y="2168.29" width="15.00" height="2.30" fill="#0c2c54"/>
<rect x="651.57" y="2166.39" width="15.00" height="4.20" fill="#0c2c54"/>
<rect x="667.94" y="2166.39" width="15.00" height="4.20" fill="#0c2c54"/>
<rect x="684.31" y="2164.19" width="15.00" height="6.40" fill="#0c2c54"/>
<rect x="700.68" y="2167.59" width="15.00" height="3.00" fill="#0c2c54"/>
<rect x="717.05" y="2167.59" width="15.00" height="3.00" fill="#0c2c54"/>
<line x1="469.00" y1="1911.09" x2="469.00" y2="2183.39" stroke="#000" stroke-width="4.4" stroke-linecap="butt"/>
<line x1="469.00" y1="2182.39" x2="734.80" y2="2182.39" stroke="#000" stroke-width="4.0" stroke-linecap="butt"/>
<line x1="458.20" y1="2170.59" x2="469.00" y2="2170.59" stroke="#333333" stroke-width="4.0" stroke-linecap="butt"/>
<line x1="458.20" y1="2107.87" x2="469.00" y2="2107.87" stroke="#333333" stroke-width="4.0" stroke-linecap="butt"/>
<line x1="458.20" y1="2045.14" x2="469.00" y2="2045.14" stroke="#333333" stroke-width="4.0" stroke-linecap="butt"/>
<line x1="458.20" y1="1982.42" x2="469.00" y2="1982.42" stroke="#333333" stroke-width="4.0" stroke-linecap="butt"/>
<line x1="458.20" y1="1919.69" x2="469.00" y2="1919.69" stroke="#333333" stroke-width="4.0" stroke-linecap="butt"/>
<line x1="479.00" y1="2182.39" x2="479.00" y2="2193.19" stroke="#333333" stroke-width="4.4" stroke-linecap="butt"/>
<line x1="495.37" y1="2182.39" x2="495.37" y2="2193.19" stroke="#333333" stroke-width="4.4" stroke-linecap="butt"/>
<line x1="511.74" y1="2182.39" x2="511.74" y2="2193.19" stroke="#333333" stroke-width="4.4" stroke-linecap="butt"/>
<line x1="528.11" y1="2182.39" x2="528.11" y2="2193.19" stroke="#333333" stroke-width="4.4" stroke-linecap="butt"/>
<line x1="544.48" y1="2182.39" x2="544.48" y2="2193.19" stroke="#333333" stroke-width="4.4" stroke-linecap="butt"/>
<line x1="560.85" y1="2182.39" x2="560.85" y2="2193.19" stroke="#333333" stroke-width="4.4" stroke-linecap="butt"/>
<line x1="577.22" y1="2182.39" x2="577.22" y2="2193.19" stroke="#333333" stroke-width="4.4" stroke-linecap="butt"/>
<line x1="593.59" y1="2182.39" x2="593.59" y2="2193.19" stroke="#333333" stroke-width="4.4" stroke-linecap="butt"/>
<line x1="609.96" y1="2182.39" x2="609.96" y2="2193.19" stroke="#333333" stroke-width="4.4" stroke-linecap="butt"/>
<line x1="626.33" y1="2182.39" x2="626.33" y2="2193.19" stroke="#333333" stroke-width="4.4" stroke-linecap="butt"/>
<line x1="642.70" y1="2182.39" x2="642.70" y2="2193.19" stroke="#333333" stroke-width="4.4" stroke-linecap="butt"/>
<line x1="659.07" y1="2182.39" x2="659.07" y2="2193.19" stroke="#333333" stroke-width="4.4" stroke-linecap="butt"/>
<line x1="675.44" y1="2182.39" x2="675.44" y2="2193.19" stroke="#333333" stroke-width="4.4" stroke-linecap="butt"/>
<line x1="691.81" y1="2182.39" x2="691.81" y2="2193.19" stroke="#333333" stroke-width="4.4" stroke-linecap="butt"/>
<line x1="708.18" y1="2182.39" x2="708.18" y2="2193.19" stroke="#333333" stroke-width="4.4" stroke-linecap="butt"/>
<line x1="724.55" y1="2182.39" x2="724.55" y2="2193.19" stroke="#333333" stroke-width="4.4" stroke-linecap="butt"/>
<text transform="translate(485.60,2204.30) rotate(-90)" font-size="19.00" text-anchor="end">A.A</text>
<text transform="translate(501.97,2204.30) rotate(-90)" font-size="19.00" text-anchor="end">A.C</text>
<text transform="translate(518.34,2204.30) rotate(-90)" font-size="19.00" text-anchor="end">A.G</text>
<text transform="translate(534.71,2204.30) rotate(-90)" font-size="19.00" text-anchor="end">A.T</text>
<text transform="translate(551.08,2204.30) rotate(-90)" font-size="19.00" text-anchor="end">C.A</text>
<text transform="translate(567.45,2204.30) rotate(-90)" font-size="19.00" text-anchor="end">C.C</text>
<text transform="translate(583.82,2204.30) rotate(-90)" font-size="19.00" text-anchor="end">C.G</text>
<text transform="translate(600.19,2204.30) rotate(-90)" font-size="19.00" text-anchor="end">C.T</text>
<text transform="translate(616.56,2204.30) rotate(-90)" font-size="19.00" text-anchor="end">G.A</text>
<text transform="translate(632.93,2204.30) rotate(-90)" font-size="19.00" text-anchor="end">G.C</text>
<text transform="translate(649.30,2204.30) rotate(-90)" font-size="19.00" text-anchor="end">G.G</text>
<text transform="translate(665.67,2204.30) rotate(-90)" font-size="19.00" text-anchor="end">G.T</text>
<text transform="translate(682.04,2204.30) rotate(-90)" font-size="19.00" text-anchor="end">T.A</text>
<text transform="translate(698.41,2204.30) rotate(-90)" font-size="19.00" text-anchor="end">T.C</text>
<text transform="translate(714.78,2204.30) rotate(-90)" font-size="19.00" text-anchor="end">T.G</text>
<text transform="translate(731.15,2204.30) rotate(-90)" font-size="19.00" text-anchor="end">T.T</text>
<rect x="769.10" y="2165.09" width="15.00" height="5.50" fill="#d62728"/>
<rect x="785.47" y="2146.99" width="15.00" height="23.60" fill="#d62728"/>
<rect x="801.84" y="2149.99" width="15.00" height="20.60" fill="#d62728"/>
<rect x="818.21" y="2160.09" width="15.00" height="10.50" fill="#d62728"/>
<rect x="834.58" y="2124.79" width="15.00" height="45.80" fill="#d62728"/>
<rect x="850.95" y="2027.29" width="15.00" height="143.30" fill="#d62728"/>
<rect x="867.32" y="2098.19" width="15.00" height="72.40" fill="#d62728"/>
<rect x="883.69" y="2099.39" width="15.00" height="71.20" fill="#d62728"/>
<rect x="900.06" y="2165.09" width="15.00" height="5.50" fill="#d62728"/>
<rect x="916.43" y="2136.99" width="15.00" height="33.60" fill="#d62728"/>
<rect x="932.80" y="2135.79" width="15.00" height="34.80" fill="#d62728"/>
<rect x="949.17" y="2152.99" width="15.00" height="17.60" fill="#d62728"/>
<rect x="965.54" y="2101.39" width="15.00" height="69.20" fill="#d62728"/>
<rect x="981.91" y="1923.89" width="15.00" height="246.70" fill="#d62728"/>
<rect x="998.28" y="2088.19" width="15.00" height="82.40" fill="#d62728"/>
<rect x="1014.65" y="2111.49" width="15.00" height="59.10" fill="#d62728"/>
<line x1="766.60" y1="1911.09" x2="766.60" y2="2183.39" stroke="#000" stroke-width="4.4" stroke-linecap="butt"/>
<line x1="766.60" y1="2182.39" x2="1032.40" y2="2182.39" stroke="#000" stroke-width="4.0" stroke-linecap="butt"/>
<line x1="755.80" y1="2170.59" x2="766.60" y2="2170.59" stroke="#333333" stroke-width="4.0" stroke-linecap="butt"/>
<line x1="755.80" y1="2107.87" x2="766.60" y2="2107.87" stroke="#333333" stroke-width="4.0" stroke-linecap="butt"/>
<line x1="755.80" y1="2045.14" x2="766.60" y2="2045.14" stroke="#333333" stroke-width="4.0" stroke-linecap="butt"/>
<line x1="755.80" y1="1982.42" x2="766.60" y2="1982.42" stroke="#333333" stroke-width="4.0" stroke-linecap="butt"/>
<line x1="755.80" y1="1919.69" x2="766.60" y2="1919.69" stroke="#333333" stroke-width="4.0" stroke-linecap="butt"/>
<line x1="776.60" y1="2182.39" x2="776.60" y2="2193.19" stroke="#333333" stroke-width="4.4" stroke-linecap="butt"/>
<line x1="792.97" y1="2182.39" x2="792.97" y2="2193.19" stroke="#333333" stroke-width="4.4" stroke-linecap="butt"/>
<line x1="809.34" y1="2182.39" x2="809.34" y2="2193.19" stroke="#333333" stroke-width="4.4" stroke-linecap="butt"/>
<line x1="825.71" y1="2182.39" x2="825.71" y2="2193.19" stroke="#333333" stroke-width="4.4" stroke-linecap="butt"/>
<line x1="842.08" y1="2182.39" x2="842.08" y2="2193.19" stroke="#333333" stroke-width="4.4" stroke-linecap="butt"/>
<line x1="858.45" y1="2182.39" x2="858.45" y2="2193.19" stroke="#333333" stroke-width="4.4" stroke-linecap="butt"/>
<line x1="874.82" y1="2182.39" x2="874.82" y2="2193.19" stroke="#333333" stroke-width="4.4" stroke-linecap="butt"/>
<line x1="891.19" y1="2182.39" x2="891.19" y2="2193.19" stroke="#333333" stroke-width="4.4" stroke-linecap="butt"/>
<line x1="907.56" y1="2182.39" x2="907.56" y2="2193.19" stroke="#333333" stroke-width="4.4" stroke-linecap="butt"/>
<line x1="923.93" y1="2182.39" x2="923.93" y2="2193.19" stroke="#333333" stroke-width="4.4" stroke-linecap="butt"/>
<line x1="940.30" y1="2182.39" x2="940.30" y2="2193.19" stroke="#333333" stroke-width="4.4" stroke-linecap="butt"/>
<line x1="956.67" y1="2182.39" x2="956.67" y2="2193.19" stroke="#333333" stroke-width="4.4" stroke-linecap="butt"/>
<line x1="973.04" y1="2182.39" x2="973.04" y2="2193.19" stroke="#333333" stroke-width="4.4" stroke-linecap="butt"/>
<line x1="989.41" y1="2182.39" x2="989.41" y2="2193.19" stroke="#333333" stroke-width="4.4" stroke-linecap="butt"/>
<line x1="1005.78" y1="2182.39" x2="1005.78" y2="2193.19" stroke="#333333" stroke-width="4.4" stroke-linecap="butt"/>
<line x1="1022.15" y1="2182.39" x2="1022.15" y2="2193.19" stroke="#333333" stroke-width="4.4" stroke-linecap="butt"/>
<text transform="translate(783.20,2204.30) rotate(-90)" font-size="19.00" text-anchor="end">A.A</text>
<text transform="translate(799.57,2204.30) rotate(-90)" font-size="19.00" text-anchor="end">A.C</text>
<text transform="translate(815.94,2204.30) rotate(-90)" font-size="19.00" text-anchor="end">A.G</text>
<text transform="translate(832.31,2204.30) rotate(-90)" font-size="19.00" text-anchor="end">A.T</text>
<text transform="translate(848.68,2204.30) rotate(-90)" font-size="19.00" text-anchor="end">C.A</text>
<text transform="translate(865.05,2204.30) rotate(-90)" font-size="19.00" text-anchor="end">C.C</text>
<text transform="translate(881.42,2204.30) rotate(-90)" font-size="19.00" text-anchor="end">C.G</text>
<text transform="translate(897.79,2204.30) rotate(-90)" font-size="19.00" text-anchor="end">C.T</text>
<text transform="translate(914.16,2204.30) rotate(-90)" font-size="19.00" text-anchor="end">G.A</text>
<text transform="translate(930.53,2204.30) rotate(-90)" font-size="19.00" text-anchor="end">G.C</text>
<text transform="translate(946.90,2204.30) rotate(-90)" font-size="19.00" text-anchor="end">G.G</text>
<text transform="translate(963.27,2204.30) rotate(-90)" font-size="19.00" text-anchor="end">G.T</text>
<text transform="translate(979.64,2204.30) rotate(-90)" font-size="19.00" text-anchor="end">T.A</text>
<text transform="translate(996.01,2204.30) rotate(-90)" font-size="19.00" text-anchor="end">T.C</text>
<text transform="translate(1012.38,2204.30) rotate(-90)" font-size="19.00" text-anchor="end">T.G</text>
<text transform="translate(1028.75,2204.30) rotate(-90)" font-size="19.00" text-anchor="end">T.T</text>
<rect x="1066.70" y="2166.69" width="15.00" height="3.90" fill="#7f7f7f"/>
<rect x="1083.07" y="2168.59" width="15.00" height="2.00" fill="#7f7f7f"/>
<rect x="1099.44" y="2167.59" width="15.00" height="3.00" fill="#7f7f7f"/>
<rect x="1115.81" y="2161.09" width="15.00" height="9.50" fill="#7f7f7f"/>
<rect x="1132.18" y="2170.09" width="15.00" height="0.50" fill="#7f7f7f"/>
<rect x="1148.55" y="2167.59" width="15.00" height="3.00" fill="#7f7f7f"/>
<rect x="1164.92" y="2168.59" width="15.00" height="2.00" fill="#7f7f7f"/>
<rect x="1181.29" y="2167.59" width="15.00" height="3.00" fill="#7f7f7f"/>
<rect x="1197.66" y="2168.59" width="15.00" height="2.00" fill="#7f7f7f"/>
<rect x="1214.03" y="2168.59" width="15.00" height="2.00" fill="#7f7f7f"/>
<rect x="1230.40" y="2168.59" width="15.00" height="2.00" fill="#7f7f7f"/>
<rect x="1246.77" y="2166.69" width="15.00" height="3.90" fill="#7f7f7f"/>
<rect x="1263.14" y="2165.59" width="15.00" height="5.00" fill="#7f7f7f"/>
<rect x="1279.51" y="2164.39" width="15.00" height="6.20" fill="#7f7f7f"/>
<rect x="1295.88" y="2170.09" width="15.00" height="0.50" fill="#7f7f7f"/>
<rect x="1312.25" y="2163.49" width="15.00" height="7.10" fill="#7f7f7f"/>
<line x1="1064.20" y1="1911.09" x2="1064.20" y2="2183.39" stroke="#000" stroke-width="4.4" stroke-linecap="butt"/>
<line x1="1064.20" y1="2182.39" x2="1330.00" y2="2182.39" stroke="#000" stroke-width="4.0" stroke-linecap="butt"/>
<line x1="1053.40" y1="2170.59" x2="1064.20" y2="2170.59" stroke="#333333" stroke-width="4.0" stroke-linecap="butt"/>
<line x1="1053.40" y1="2107.87" x2="1064.20" y2="2107.87" stroke="#333333" stroke-width="4.0" stroke-linecap="butt"/>
<line x1="1053.40" y1="2045.14" x2="1064.20" y2="2045.14" stroke="#333333" stroke-width="4.0" stroke-linecap="butt"/>
<line x1="1053.40" y1="1982.42" x2="1064.20" y2="1982.42" stroke="#333333" stroke-width="4.0" stroke-linecap="butt"/>
<line x1="1053.40" y1="1919.69" x2="1064.20" y2="1919.69" stroke="#333333" stroke-width="4.0" stroke-linecap="butt"/>
<line x1="1074.20" y1="2182.39" x2="1074.20" y2="2193.19" stroke="#333333" stroke-width="4.4" stroke-linecap="butt"/>
<line x1="1090.57" y1="2182.39" x2="1090.57" y2="2193.19" stroke="#333333" stroke-width="4.4" stroke-linecap="butt"/>
<line x1="1106.94" y1="2182.39" x2="1106.94" y2="2193.19" stroke="#333333" stroke-width="4.4" stroke-linecap="butt"/>
<line x1="1123.31" y1="2182.39" x2="1123.31" y2="2193.19" stroke="#333333" stroke-width="4.4" stroke-linecap="butt"/>
<line x1="1139.68" y1="2182.39" x2="1139.68" y2="2193.19" stroke="#333333" stroke-width="4.4" stroke-linecap="butt"/>
<line x1="1156.05" y1="2182.39" x2="1156.05" y2="2193.19" stroke="#333333" stroke-width="4.4" stroke-linecap="butt"/>
<line x1="1172.42" y1="2182.39" x2="1172.42" y2="2193.19" stroke="#333333" stroke-width="4.4" stroke-linecap="butt"/>
<line x1="1188.79" y1="2182.39" x2="1188.79" y2="2193.19" stroke="#333333" stroke-width="4.4" stroke-linecap="butt"/>
<line x1="1205.16" y1="2182.39" x2="1205.16" y2="2193.19" stroke="#333333" stroke-width="4.4" stroke-linecap="butt"/>
<line x1="1221.53" y1="2182.39" x2="1221.53" y2="2193.19" stroke="#333333" stroke-width="4.4" stroke-linecap="butt"/>
<line x1="1237.90" y1="2182.39" x2="1237.90" y2="2193.19" stroke="#333333" stroke-width="4.4" stroke-linecap="butt"/>
<line x1="1254.27" y1="2182.39" x2="1254.27" y2="2193.19" stroke="#333333" stroke-width="4.4" stroke-linecap="butt"/>
<line x1="1270.64" y1="2182.39" x2="1270.64" y2="2193.19" stroke="#333333" stroke-width="4.4" stroke-linecap="butt"/>
<line x1="1287.01" y1="2182.39" x2="1287.01" y2="2193.19" stroke="#333333" stroke-width="4.4" stroke-linecap="butt"/>
<line x1="1303.38" y1="2182.39" x2="1303.38" y2="2193.19" stroke="#333333" stroke-width="4.4" stroke-linecap="butt"/>
<line x1="1319.75" y1="2182.39" x2="1319.75" y2="2193.19" stroke="#333333" stroke-width="4.4" stroke-linecap="butt"/>
<text transform="translate(1080.80,2204.30) rotate(-90)" font-size="19.00" text-anchor="end">A.A</text>
<text transform="translate(1097.17,2204.30) rotate(-90)" font-size="19.00" text-anchor="end">A.C</text>
<text transform="translate(1113.54,2204.30) rotate(-90)" font-size="19.00" text-anchor="end">A.G</text>
<text transform="translate(1129.91,2204.30) rotate(-90)" font-size="19.00" text-anchor="end">A.T</text>
<text transform="translate(1146.28,2204.30) rotate(-90)" font-size="19.00" text-anchor="end">C.A</text>
<text transform="translate(1162.65,2204.30) rotate(-90)" font-size="19.00" text-anchor="end">C.C</text>
<text transform="translate(1179.02,2204.30) rotate(-90)" font-size="19.00" text-anchor="end">C.G</text>
<text transform="translate(1195.39,2204.30) rotate(-90)" font-size="19.00" text-anchor="end">C.T</text>
<text transform="translate(1211.76,2204.30) rotate(-90)" font-size="19.00" text-anchor="end">G.A</text>
<text transform="translate(1228.13,2204.30) rotate(-90)" font-size="19.00" text-anchor="end">G.C</text>
<text transform="translate(1244.50,2204.30) rotate(-90)" font-size="19.00" text-anchor="end">G.G</text>
<text transform="translate(1260.87,2204.30) rotate(-90)" font-size="19.00" text-anchor="end">G.T</text>
<text transform="translate(1277.24,2204.30) rotate(-90)" font-size="19.00" text-anchor="end">T.A</text>
<text transform="translate(1293.61,2204.30) rotate(-90)" font-size="19.00" text-anchor="end">T.C</text>
<text transform="translate(1309.98,2204.30) rotate(-90)" font-size="19.00" text-anchor="end">T.G</text>
<text transform="translate(1326.35,2204.30) rotate(-90)" font-size="19.00" text-anchor="end">T.T</text>
<rect x="1364.30" y="2167.59" width="15.00" height="3.00" fill="#98df8a"/>
<rect x="1380.67" y="2168.59" width="15.00" height="2.00" fill="#98df8a"/>
<rect x="1397.04" y="2166.39" width="15.00" height="4.20" fill="#98df8a"/>
<rect x="1413.41" y="2167.59" width="15.00" height="3.00" fill="#98df8a"/>
<rect x="1429.78" y="2169.39" width="15.00" height="1.20" fill="#98df8a"/>
<rect x="1446.15" y="2167.59" width="15.00" height="3.00" fill="#98df8a"/>
<rect x="1462.52" y="2165.39" width="15.00" height="5.20" fill="#98df8a"/>
<rect x="1478.89" y="2164.19" width="15.00" height="6.40" fill="#98df8a"/>
<rect x="1495.26" y="2165.39" width="15.00" height="5.20" fill="#98df8a"/>
<rect x="1511.63" y="2166.39" width="15.00" height="4.20" fill="#98df8a"/>
<rect x="1528.00" y="2168.59" width="15.00" height="2.00" fill="#98df8a"/>
<rect x="1544.37" y="2164.19" width="15.00" height="6.40" fill="#98df8a"/>
<rect x="1560.74" y="2167.59" width="15.00" height="3.00" fill="#98df8a"/>
<rect x="1577.11" y="2164.19" width="15.00" height="6.40" fill="#98df8a"/>
<rect x="1593.48" y="2168.59" width="15.00" height="2.00" fill="#98df8a"/>
<rect x="1609.85" y="2166.39" width="15.00" height="4.20" fill="#98df8a"/>
<line x1="1361.80" y1="1911.09" x2="1361.80" y2="2183.39" stroke="#000" stroke-width="4.4" stroke-linecap="butt"/>
<line x1="1361.80" y1="2182.39" x2="1627.60" y2="2182.39" stroke="#000" stroke-width="4.0" stroke-linecap="butt"/>
<line x1="1351.00" y1="2170.59" x2="1361.80" y2="2170.59" stroke="#333333" stroke-width="4.0" stroke-linecap="butt"/>
<line x1="1351.00" y1="2107.87" x2="1361.80" y2="2107.87" stroke="#333333" stroke-width="4.0" stroke-linecap="butt"/>
<line x1="1351.00" y1="2045.14" x2="1361.80" y2="2045.14" stroke="#333333" stroke-width="4.0" stroke-linecap="butt"/>
<line x1="1351.00" y1="1982.42" x2="1361.80" y2="1982.42" stroke="#333333" stroke-width="4.0" stroke-linecap="butt"/>
<line x1="1351.00" y1="1919.69" x2="1361.80" y2="1919.69" stroke="#333333" stroke-width="4.0" stroke-linecap="butt"/>
<line x1="1371.80" y1="2182.39" x2="1371.80" y2="2193.19" stroke="#333333" stroke-width="4.4" stroke-linecap="butt"/>
<line x1="1388.17" y1="2182.39" x2="1388.17" y2="2193.19" stroke="#333333" stroke-width="4.4" stroke-linecap="butt"/>
<line x1="1404.54" y1="2182.39" x2="1404.54" y2="2193.19" stroke="#333333" stroke-width="4.4" stroke-linecap="butt"/>
<line x1="1420.91" y1="2182.39" x2="1420.91" y2="2193.19" stroke="#333333" stroke-width="4.4" stroke-linecap="butt"/>
<line x1="1437.28" y1="2182.39" x2="1437.28" y2="2193.19" stroke="#333333" stroke-width="4.4" stroke-linecap="butt"/>
<line x1="1453.65" y1="2182.39" x2="1453.65" y2="2193.19" stroke="#333333" stroke-width="4.4" stroke-linecap="butt"/>
<line x1="1470.02" y1="2182.39" x2="1470.02" y2="2193.19" stroke="#333333" stroke-width="4.4" stroke-linecap="butt"/>
<line x1="1486.39" y1="2182.39" x2="1486.39" y2="2193.19" stroke="#333333" stroke-width="4.4" stroke-linecap="butt"/>
<line x1="1502.76" y1="2182.39" x2="1502.76" y2="2193.19" stroke="#333333" stroke-width="4.4" stroke-linecap="butt"/>
<line x1="1519.13" y1="2182.39" x2="1519.13" y2="2193.19" stroke="#333333" stroke-width="4.4" stroke-linecap="butt"/>
<line x1="1535.50" y1="2182.39" x2="1535.50" y2="2193.19" stroke="#333333" stroke-width="4.4" stroke-linecap="butt"/>
<line x1="1551.87" y1="2182.39" x2="1551.87" y2="2193.19" stroke="#333333" stroke-width="4.4" stroke-linecap="butt"/>
<line x1="1568.24" y1="2182.39" x2="1568.24" y2="2193.19" stroke="#333333" stroke-width="4.4" stroke-linecap="butt"/>
<line x1="1584.61" y1="2182.39" x2="1584.61" y2="2193.19" stroke="#333333" stroke-width="4.4" stroke-linecap="butt"/>
<line x1="1600.98" y1="2182.39" x2="1600.98" y2="2193.19" stroke="#333333" stroke-width="4.4" stroke-linecap="butt"/>
<line x1="1617.35" y1="2182.39" x2="1617.35" y2="2193.19" stroke="#333333" stroke-width="4.4" stroke-linecap="butt"/>
<text transform="translate(1378.40,2204.30) rotate(-90)" font-size="19.00" text-anchor="end">A.A</text>
<text transform="translate(1394.77,2204.30) rotate(-90)" font-size="19.00" text-anchor="end">A.C</text>
<text transform="translate(1411.14,2204.30) rotate(-90)" font-size="19.00" text-anchor="end">A.G</text>
<text transform="translate(1427.51,2204.30) rotate(-90)" font-size="19.00" text-anchor="end">A.T</text>
<text transform="translate(1443.88,2204.30) rotate(-90)" font-size="19.00" text-anchor="end">C.A</text>
<text transform="translate(1460.25,2204.30) rotate(-90)" font-size="19.00" text-anchor="end">C.C</text>
<text transform="translate(1476.62,2204.30) rotate(-90)" font-size="19.00" text-anchor="end">C.G</text>
<text transform="translate(1492.99,2204.30) rotate(-90)" font-size="19.00" text-anchor="end">C.T</text>
<text transform="translate(1509.36,2204.30) rotate(-90)" font-size="19.00" text-anchor="end">G.A</text>
<text transform="translate(1525.73,2204.30) rotate(-90)" font-size="19.00" text-anchor="end">G.C</text>
<text transform="translate(1542.10,2204.30) rotate(-90)" font-size="19.00" text-anchor="end">G.G</text>
<text transform="translate(1558.47,2204.30) rotate(-90)" font-size="19.00" text-anchor="end">G.T</text>
<text transform="translate(1574.84,2204.30) rotate(-90)" font-size="19.00" text-anchor="end">T.A</text>
<text transform="translate(1591.21,2204.30) rotate(-90)" font-size="19.00" text-anchor="end">T.C</text>
<text transform="translate(1607.58,2204.30) rotate(-90)" font-size="19.00" text-anchor="end">T.G</text>
<text transform="translate(1623.95,2204.30) rotate(-90)" font-size="19.00" text-anchor="end">T.T</text>
<rect x="1661.90" y="2167.59" width="15.00" height="3.00" fill="#e377c2"/>
<rect x="1678.27" y="2169.19" width="15.00" height="1.40" fill="#e377c2"/>
<rect x="1694.64" y="2159.19" width="15.00" height="11.40" fill="#e377c2"/>
<rect x="1711.01" y="2168.49" width="15.00" height="2.10" fill="#e377c2"/>
<rect x="1727.38" y="2170.09" width="15.00" height="0.50" fill="#e377c2"/>
<rect x="1743.75" y="2168.49" width="15.00" height="2.10" fill="#e377c2"/>
<rect x="1760.12" y="2165.39" width="15.00" height="5.20" fill="#e377c2"/>
<rect x="1776.49" y="2163.49" width="15.00" height="7.10" fill="#e377c2"/>
<rect x="1792.86" y="2170.09" width="15.00" height="0.50" fill="#e377c2"/>
<rect x="1809.23" y="2169.19" width="15.00" height="1.40" fill="#e377c2"/>
<rect x="1825.60" y="2159.19" width="15.00" height="11.40" fill="#e377c2"/>
<rect x="1841.97" y="2167.59" width="15.00" height="3.00" fill="#e377c2"/>
<rect x="1858.34" y="2170.09" width="15.00" height="0.50" fill="#e377c2"/>
<rect x="1874.71" y="2167.59" width="15.00" height="3.00" fill="#e377c2"/>
<rect x="1891.08" y="2160.29" width="15.00" height="10.30" fill="#e377c2"/>
<rect x="1907.45" y="2160.29" width="15.00" height="10.30" fill="#e377c2"/>
<line x1="1659.40" y1="1911.09" x2="1659.40" y2="2183.39" stroke="#000" stroke-width="4.4" stroke-linecap="butt"/>
<line x1="1659.40" y1="2182.39" x2="1925.20" y2="2182.39" stroke="#000" stroke-width="4.0" stroke-linecap="butt"/>
<line x1="1648.60" y1="2170.59" x2="1659.40" y2="2170.59" stroke="#333333" stroke-width="4.0" stroke-linecap="butt"/>
<line x1="1648.60" y1="2107.87" x2="1659.40" y2="2107.87" stroke="#333333" stroke-width="4.0" stroke-linecap="butt"/>
<line x1="1648.60" y1="2045.14" x2="1659.40" y2="2045.14" stroke="#333333" stroke-width="4.0" stroke-linecap="butt"/>
<line x1="1648.60" y1="1982.42" x2="1659.40" y2="1982.42" stroke="#333333" stroke-width="4.0" stroke-linecap="butt"/>
<line x1="1648.60" y1="1919.69" x2="1659.40" y2="1919.69" stroke="#333333" stroke-width="4.0" stroke-linecap="butt"/>
<line x1="1669.40" y1="2182.39" x2="1669.40" y2="2193.19" stroke="#333333" stroke-width="4.4" stroke-linecap="butt"/>
<line x1="1685.77" y1="2182.39" x2="1685.77" y2="2193.19" stroke="#333333" stroke-width="4.4" stroke-linecap="butt"/>
<line x1="1702.14" y1="2182.39" x2="1702.14" y2="2193.19" stroke="#333333" stroke-width="4.4" stroke-linecap="butt"/>
<line x1="1718.51" y1="2182.39" x2="1718.51" y2="2193.19" stroke="#333333" stroke-width="4.4" stroke-linecap="butt"/>
<line x1="1734.88" y1="2182.39" x2="1734.88" y2="2193.19" stroke="#333333" stroke-width="4.4" stroke-linecap="butt"/>
<line x1="1751.25" y1="2182.39" x2="1751.25" y2="2193.19" stroke="#333333" stroke-width="4.4" stroke-linecap="butt"/>
<line x1="1767.62" y1="2182.39" x2="1767.62" y2="2193.19" stroke="#333333" stroke-width="4.4" stroke-linecap="butt"/>
<line x1="1783.99" y1="2182.39" x2="1783.99" y2="2193.19" stroke="#333333" stroke-width="4.4" stroke-linecap="butt"/>
<line x1="1800.36" y1="2182.39" x2="1800.36" y2="2193.19" stroke="#333333" stroke-width="4.4" stroke-linecap="butt"/>
<line x1="1816.73" y1="2182.39" x2="1816.73" y2="2193.19" stroke="#333333" stroke-width="4.4" stroke-linecap="butt"/>
<line x1="1833.10" y1="2182.39" x2="1833.10" y2="2193.19" stroke="#333333" stroke-width="4.4" stroke-linecap="butt"/>
<line x1="1849.47" y1="2182.39" x2="1849.47" y2="2193.19" stroke="#333333" stroke-width="4.4" stroke-linecap="butt"/>
<line x1="1865.84" y1="2182.39" x2="1865.84" y2="2193.19" stroke="#333333" stroke-width="4.4" stroke-linecap="butt"/>
<line x1="1882.21" y1="2182.39" x2="1882.21" y2="2193.19" stroke="#333333" stroke-width="4.4" stroke-linecap="butt"/>
<line x1="1898.58" y1="2182.39" x2="1898.58" y2="2193.19" stroke="#333333" stroke-width="4.4" stroke-linecap="butt"/>
<line x1="1914.95" y1="2182.39" x2="1914.95" y2="2193.19" stroke="#333333" stroke-width="4.4" stroke-linecap="butt"/>
<text transform="translate(1676.00,2204.30) rotate(-90)" font-size="19.00" text-anchor="end">A.A</text>
<text transform="translate(1692.37,2204.30) rotate(-90)" font-size="19.00" text-anchor="end">A.C</text>
<text transform="translate(1708.74,2204.30) rotate(-90)" font-size="19.00" text-anchor="end">A.G</text>
<text transform="translate(1725.11,2204.30) rotate(-90)" font-size="19.00" text-anchor="end">A.T</text>
<text transform="translate(1741.48,2204.30) rotate(-90)" font-size="19.00" text-anchor="end">C.A</text>
<text transform="translate(1757.85,2204.30) rotate(-90)" font-size="19.00" text-anchor="end">C.C</text>
<text transform="translate(1774.22,2204.30) rotate(-90)" font-size="19.00" text-anchor="end">C.G</text>
<text transform="translate(1790.59,2204.30) rotate(-90)" font-size="19.00" text-anchor="end">C.T</text>
<text transform="translate(1806.96,2204.30) rotate(-90)" font-size="19.00" text-anchor="end">G.A</text>
<text transform="translate(1823.33,2204.30) rotate(-90)" font-size="19.00" text-anchor="end">G.C</text>
<text transform="translate(1839.70,2204.30) rotate(-90)" font-size="19.00" text-anchor="end">G.G</text>
<text transform="translate(1856.07,2204.30) rotate(-90)" font-size="19.00" text-anchor="end">G.T</text>
<text transform="translate(1872.44,2204.30) rotate(-90)" font-size="19.00" text-anchor="end">T.A</text>
<text transform="translate(1888.81,2204.30) rotate(-90)" font-size="19.00" text-anchor="end">T.C</text>
<text transform="translate(1905.18,2204.30) rotate(-90)" font-size="19.00" text-anchor="end">T.G</text>
<text transform="translate(1921.55,2204.30) rotate(-90)" font-size="19.00" text-anchor="end">T.T</text>
<text transform="translate(1945.00,2046.74) rotate(90)" font-size="30.70" fill="#0c2f5a" text-anchor="middle">Mycosis Fungoides</text>
<text transform="translate(304.30,997.90)" font-size="38.40" fill="#0c2f5a" text-anchor="middle">C&gt;A</text>
<text transform="translate(601.90,997.90)" font-size="38.40" fill="#0c2f5a" text-anchor="middle">C&gt;G</text>
<text transform="translate(899.50,997.90)" font-size="38.40" fill="#0c2f5a" text-anchor="middle">C&gt;T</text>
<text transform="translate(1197.10,997.90)" font-size="38.40" fill="#0c2f5a" text-anchor="middle">T&gt;A</text>
<text transform="translate(1494.70,997.90)" font-size="38.40" fill="#0c2f5a" text-anchor="middle">T&gt;C</text>
<text transform="translate(1792.30,997.90)" font-size="38.40" fill="#0c2f5a" text-anchor="middle">T&gt;G</text>
<text transform="translate(48.80,1600.00) rotate(-90)" font-size="38.40" text-anchor="middle">Mutation type probability</text>
<text transform="translate(1048.50,2302.80)" font-size="38.40" text-anchor="middle">Motif</text>
</svg>
</body></html>
